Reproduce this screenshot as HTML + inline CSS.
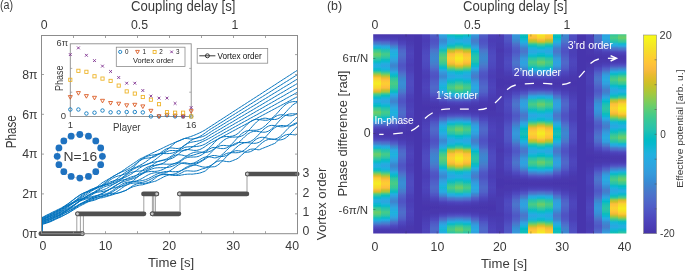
<!DOCTYPE html>
<html><head><meta charset="utf-8"><style>
html,body{margin:0;padding:0;background:#fff;width:685px;height:271px;overflow:hidden}
svg{display:block}
text{font-family:"Liberation Sans",sans-serif}
svg{will-change:transform}
</style></head><body>
<svg width="685" height="271" viewBox="0 0 685 271">
<defs><clipPath id="hmclip"><rect x="373.2" y="34.3" width="253.20" height="199.30"/></clipPath><filter id="hblur" x="-2%" y="-2%" width="104%" height="104%"><feGaussianBlur stdDeviation="0.6 0.3"/></filter><linearGradient id="c0" gradientUnits="userSpaceOnUse" x1="0" y1="34.0" x2="0" y2="134.0" spreadMethod="repeat"><stop offset="0.00" stop-color="#4836ae"/><stop offset="0.02" stop-color="#4939b0"/><stop offset="0.04" stop-color="#4c40b8"/><stop offset="0.06" stop-color="#4e49bf"/><stop offset="0.08" stop-color="#4e6cca"/><stop offset="0.10" stop-color="#4281cd"/><stop offset="0.12" stop-color="#2aa8e1"/><stop offset="0.14" stop-color="#10b7d3"/><stop offset="0.16" stop-color="#34c79b"/><stop offset="0.18" stop-color="#47cb87"/><stop offset="0.20" stop-color="#6ecd67"/><stop offset="0.22" stop-color="#5dcc75"/><stop offset="0.24" stop-color="#3ac993"/><stop offset="0.26" stop-color="#25c2ae"/><stop offset="0.28" stop-color="#01bcc6"/><stop offset="0.30" stop-color="#1eb2dd"/><stop offset="0.32" stop-color="#25ace2"/><stop offset="0.34" stop-color="#16b6d7"/><stop offset="0.36" stop-color="#02baca"/><stop offset="0.38" stop-color="#40ca8d"/><stop offset="0.40" stop-color="#94ca4a"/><stop offset="0.42" stop-color="#debc29"/><stop offset="0.44" stop-color="#fec835"/><stop offset="0.46" stop-color="#f8da2b"/><stop offset="0.48" stop-color="#f5e725"/><stop offset="0.50" stop-color="#f5ec22"/><stop offset="0.52" stop-color="#f6df29"/><stop offset="0.54" stop-color="#f9d72d"/><stop offset="0.56" stop-color="#f4ba3a"/><stop offset="0.58" stop-color="#d1bf27"/><stop offset="0.60" stop-color="#52cc7e"/><stop offset="0.62" stop-color="#25c2ae"/><stop offset="0.64" stop-color="#08b8cf"/><stop offset="0.66" stop-color="#20b1df"/><stop offset="0.68" stop-color="#25ace2"/><stop offset="0.70" stop-color="#0ab8d1"/><stop offset="0.72" stop-color="#04bcc1"/><stop offset="0.74" stop-color="#36c799"/><stop offset="0.76" stop-color="#47cb87"/><stop offset="0.78" stop-color="#6ecd67"/><stop offset="0.80" stop-color="#5dcc75"/><stop offset="0.82" stop-color="#3ac993"/><stop offset="0.84" stop-color="#12beb9"/><stop offset="0.86" stop-color="#1bb4da"/><stop offset="0.88" stop-color="#3595da"/><stop offset="0.90" stop-color="#477bcc"/><stop offset="0.92" stop-color="#5058c6"/><stop offset="0.94" stop-color="#4e46bd"/><stop offset="0.96" stop-color="#493bb2"/><stop offset="0.98" stop-color="#4838af"/><stop offset="1.00" stop-color="#4836ae"/></linearGradient><linearGradient id="c1" gradientUnits="userSpaceOnUse" x1="0" y1="34.0" x2="0" y2="134.0" spreadMethod="repeat"><stop offset="0.00" stop-color="#4836ae"/><stop offset="0.02" stop-color="#4939b0"/><stop offset="0.04" stop-color="#4b3fb7"/><stop offset="0.06" stop-color="#4e48be"/><stop offset="0.08" stop-color="#4f67ca"/><stop offset="0.10" stop-color="#487acc"/><stop offset="0.12" stop-color="#2ea2df"/><stop offset="0.14" stop-color="#1fb2de"/><stop offset="0.16" stop-color="#21c1b0"/><stop offset="0.18" stop-color="#30c5a1"/><stop offset="0.20" stop-color="#45cb89"/><stop offset="0.22" stop-color="#3ac994"/><stop offset="0.24" stop-color="#29c3aa"/><stop offset="0.26" stop-color="#05bdc0"/><stop offset="0.28" stop-color="#11b6d4"/><stop offset="0.30" stop-color="#26abe1"/><stop offset="0.32" stop-color="#2ba5e0"/><stop offset="0.34" stop-color="#21afe0"/><stop offset="0.36" stop-color="#16b5d7"/><stop offset="0.38" stop-color="#2dc4a6"/><stop offset="0.40" stop-color="#63cd70"/><stop offset="0.42" stop-color="#b0c636"/><stop offset="0.44" stop-color="#eaba30"/><stop offset="0.46" stop-color="#febe3c"/><stop offset="0.48" stop-color="#fec934"/><stop offset="0.50" stop-color="#fdce31"/><stop offset="0.52" stop-color="#fec339"/><stop offset="0.54" stop-color="#fcbc3e"/><stop offset="0.56" stop-color="#cbc028"/><stop offset="0.58" stop-color="#a1c840"/><stop offset="0.60" stop-color="#35c79b"/><stop offset="0.62" stop-color="#05bdc0"/><stop offset="0.64" stop-color="#1cb3db"/><stop offset="0.66" stop-color="#28aae1"/><stop offset="0.68" stop-color="#2ba6e0"/><stop offset="0.70" stop-color="#1db2dc"/><stop offset="0.72" stop-color="#09b9d0"/><stop offset="0.74" stop-color="#24c1af"/><stop offset="0.76" stop-color="#30c5a1"/><stop offset="0.78" stop-color="#45cb89"/><stop offset="0.80" stop-color="#3ac994"/><stop offset="0.82" stop-color="#29c3aa"/><stop offset="0.84" stop-color="#02baca"/><stop offset="0.86" stop-color="#24aee2"/><stop offset="0.88" stop-color="#378dd5"/><stop offset="0.90" stop-color="#4b75cb"/><stop offset="0.92" stop-color="#5055c4"/><stop offset="0.94" stop-color="#4d45bc"/><stop offset="0.96" stop-color="#493ab1"/><stop offset="0.98" stop-color="#4838af"/><stop offset="1.00" stop-color="#4836ae"/></linearGradient><linearGradient id="c2" gradientUnits="userSpaceOnUse" x1="0" y1="34.0" x2="0" y2="134.0" spreadMethod="repeat"><stop offset="0.00" stop-color="#4836ad"/><stop offset="0.02" stop-color="#4838af"/><stop offset="0.04" stop-color="#4a3cb4"/><stop offset="0.06" stop-color="#4c41b9"/><stop offset="0.08" stop-color="#5055c4"/><stop offset="0.10" stop-color="#5062c8"/><stop offset="0.12" stop-color="#447fcc"/><stop offset="0.14" stop-color="#3690d7"/><stop offset="0.16" stop-color="#2ba7e1"/><stop offset="0.18" stop-color="#26abe1"/><stop offset="0.20" stop-color="#1eb2dd"/><stop offset="0.22" stop-color="#21afe0"/><stop offset="0.24" stop-color="#2aa8e1"/><stop offset="0.26" stop-color="#2fa1df"/><stop offset="0.28" stop-color="#3598db"/><stop offset="0.30" stop-color="#398ad3"/><stop offset="0.32" stop-color="#4083ce"/><stop offset="0.34" stop-color="#378ed5"/><stop offset="0.36" stop-color="#3596da"/><stop offset="0.38" stop-color="#27aae1"/><stop offset="0.40" stop-color="#13b7d5"/><stop offset="0.42" stop-color="#08bcbe"/><stop offset="0.44" stop-color="#2dc4a5"/><stop offset="0.46" stop-color="#37c897"/><stop offset="0.48" stop-color="#42ca8b"/><stop offset="0.50" stop-color="#48cb86"/><stop offset="0.52" stop-color="#3bc992"/><stop offset="0.54" stop-color="#35c79a"/><stop offset="0.56" stop-color="#1cc0b4"/><stop offset="0.58" stop-color="#03bcc3"/><stop offset="0.60" stop-color="#24aee2"/><stop offset="0.62" stop-color="#2fa1df"/><stop offset="0.64" stop-color="#3693d8"/><stop offset="0.66" stop-color="#3b88d2"/><stop offset="0.68" stop-color="#4083ce"/><stop offset="0.70" stop-color="#3692d8"/><stop offset="0.72" stop-color="#359adc"/><stop offset="0.74" stop-color="#2aa7e1"/><stop offset="0.76" stop-color="#26abe1"/><stop offset="0.78" stop-color="#1eb2dd"/><stop offset="0.80" stop-color="#21afe0"/><stop offset="0.82" stop-color="#2aa8e1"/><stop offset="0.84" stop-color="#349ddd"/><stop offset="0.86" stop-color="#388cd4"/><stop offset="0.88" stop-color="#4e6ecb"/><stop offset="0.90" stop-color="#505ec8"/><stop offset="0.92" stop-color="#4e49bf"/><stop offset="0.94" stop-color="#4c40b8"/><stop offset="0.96" stop-color="#4939b0"/><stop offset="0.98" stop-color="#4837ae"/><stop offset="1.00" stop-color="#4836ad"/></linearGradient><linearGradient id="c3" gradientUnits="userSpaceOnUse" x1="0" y1="34.0" x2="0" y2="134.0" spreadMethod="repeat"><stop offset="0.00" stop-color="#4736ad"/><stop offset="0.02" stop-color="#4837ae"/><stop offset="0.04" stop-color="#4939b0"/><stop offset="0.06" stop-color="#4a3bb2"/><stop offset="0.08" stop-color="#4c42ba"/><stop offset="0.10" stop-color="#4e46bd"/><stop offset="0.12" stop-color="#4f52c4"/><stop offset="0.14" stop-color="#505ac6"/><stop offset="0.16" stop-color="#4f66c9"/><stop offset="0.18" stop-color="#4f69ca"/><stop offset="0.20" stop-color="#4e6ecb"/><stop offset="0.22" stop-color="#4e6cca"/><stop offset="0.24" stop-color="#4f67ca"/><stop offset="0.26" stop-color="#5062c8"/><stop offset="0.28" stop-color="#505dc7"/><stop offset="0.30" stop-color="#5057c5"/><stop offset="0.32" stop-color="#4f54c4"/><stop offset="0.34" stop-color="#5059c6"/><stop offset="0.36" stop-color="#505cc7"/><stop offset="0.38" stop-color="#4f68ca"/><stop offset="0.40" stop-color="#4c72cb"/><stop offset="0.42" stop-color="#477bcc"/><stop offset="0.44" stop-color="#3e85cf"/><stop offset="0.46" stop-color="#3989d2"/><stop offset="0.48" stop-color="#378dd5"/><stop offset="0.50" stop-color="#378ed5"/><stop offset="0.52" stop-color="#388bd4"/><stop offset="0.54" stop-color="#3a89d2"/><stop offset="0.56" stop-color="#437fcc"/><stop offset="0.58" stop-color="#4879cc"/><stop offset="0.60" stop-color="#4e6bca"/><stop offset="0.62" stop-color="#5062c8"/><stop offset="0.64" stop-color="#505bc6"/><stop offset="0.66" stop-color="#5056c5"/><stop offset="0.68" stop-color="#4f54c4"/><stop offset="0.70" stop-color="#505ac6"/><stop offset="0.72" stop-color="#505ec7"/><stop offset="0.74" stop-color="#4f66ca"/><stop offset="0.76" stop-color="#4f69ca"/><stop offset="0.78" stop-color="#4e6ecb"/><stop offset="0.80" stop-color="#4e6cca"/><stop offset="0.82" stop-color="#4f67ca"/><stop offset="0.84" stop-color="#5060c8"/><stop offset="0.86" stop-color="#5058c5"/><stop offset="0.88" stop-color="#4f4bc0"/><stop offset="0.90" stop-color="#4d45bc"/><stop offset="0.92" stop-color="#4b3eb6"/><stop offset="0.94" stop-color="#493ab2"/><stop offset="0.96" stop-color="#4837ae"/><stop offset="0.98" stop-color="#4837ae"/><stop offset="1.00" stop-color="#4736ad"/></linearGradient><linearGradient id="c4" gradientUnits="userSpaceOnUse" x1="0" y1="34.0" x2="0" y2="134.0" spreadMethod="repeat"><stop offset="0.00" stop-color="#4736ad"/><stop offset="0.02" stop-color="#4836ae"/><stop offset="0.04" stop-color="#4837ae"/><stop offset="0.06" stop-color="#4838af"/><stop offset="0.08" stop-color="#493ab1"/><stop offset="0.10" stop-color="#4a3bb2"/><stop offset="0.12" stop-color="#4b3eb5"/><stop offset="0.14" stop-color="#4b3fb7"/><stop offset="0.16" stop-color="#4c42ba"/><stop offset="0.18" stop-color="#4d43ba"/><stop offset="0.20" stop-color="#4d44bb"/><stop offset="0.22" stop-color="#4d43bb"/><stop offset="0.24" stop-color="#4d42ba"/><stop offset="0.26" stop-color="#4c41b9"/><stop offset="0.28" stop-color="#4c40b8"/><stop offset="0.30" stop-color="#4b3eb6"/><stop offset="0.32" stop-color="#4b3eb6"/><stop offset="0.34" stop-color="#4b3fb6"/><stop offset="0.36" stop-color="#4c40b7"/><stop offset="0.38" stop-color="#4d42ba"/><stop offset="0.40" stop-color="#4d45bc"/><stop offset="0.42" stop-color="#4e47be"/><stop offset="0.44" stop-color="#4e49bf"/><stop offset="0.46" stop-color="#4e4bc0"/><stop offset="0.48" stop-color="#4f4bc0"/><stop offset="0.50" stop-color="#4f4cc0"/><stop offset="0.52" stop-color="#4f4bc0"/><stop offset="0.54" stop-color="#4e4ac0"/><stop offset="0.56" stop-color="#4e48be"/><stop offset="0.58" stop-color="#4e46bd"/><stop offset="0.60" stop-color="#4d43ba"/><stop offset="0.62" stop-color="#4c41b9"/><stop offset="0.64" stop-color="#4b3fb7"/><stop offset="0.66" stop-color="#4b3eb6"/><stop offset="0.68" stop-color="#4b3eb6"/><stop offset="0.70" stop-color="#4b3fb7"/><stop offset="0.72" stop-color="#4c40b8"/><stop offset="0.74" stop-color="#4c42ba"/><stop offset="0.76" stop-color="#4d43ba"/><stop offset="0.78" stop-color="#4d44bb"/><stop offset="0.80" stop-color="#4d43bb"/><stop offset="0.82" stop-color="#4d42ba"/><stop offset="0.84" stop-color="#4c40b8"/><stop offset="0.86" stop-color="#4b3fb6"/><stop offset="0.88" stop-color="#4a3cb4"/><stop offset="0.90" stop-color="#493bb2"/><stop offset="0.92" stop-color="#4939b0"/><stop offset="0.94" stop-color="#4837ae"/><stop offset="0.96" stop-color="#4837ae"/><stop offset="0.98" stop-color="#4736ad"/><stop offset="1.00" stop-color="#4736ad"/></linearGradient><linearGradient id="c5" gradientUnits="userSpaceOnUse" x1="0" y1="34.0" x2="0" y2="134.0" spreadMethod="repeat"><stop offset="0.00" stop-color="#4736ad"/><stop offset="0.02" stop-color="#4736ad"/><stop offset="0.04" stop-color="#4736ad"/><stop offset="0.06" stop-color="#4736ad"/><stop offset="0.08" stop-color="#4736ad"/><stop offset="0.10" stop-color="#4736ad"/><stop offset="0.12" stop-color="#4736ad"/><stop offset="0.14" stop-color="#4736ad"/><stop offset="0.16" stop-color="#4736ad"/><stop offset="0.18" stop-color="#4736ad"/><stop offset="0.20" stop-color="#4736ad"/><stop offset="0.22" stop-color="#4736ad"/><stop offset="0.24" stop-color="#4736ad"/><stop offset="0.26" stop-color="#4736ad"/><stop offset="0.28" stop-color="#4736ad"/><stop offset="0.30" stop-color="#4736ad"/><stop offset="0.32" stop-color="#4736ad"/><stop offset="0.34" stop-color="#4736ad"/><stop offset="0.36" stop-color="#4736ad"/><stop offset="0.38" stop-color="#4736ad"/><stop offset="0.40" stop-color="#4736ad"/><stop offset="0.42" stop-color="#4736ad"/><stop offset="0.44" stop-color="#4736ad"/><stop offset="0.46" stop-color="#4736ad"/><stop offset="0.48" stop-color="#4736ad"/><stop offset="0.50" stop-color="#4736ad"/><stop offset="0.52" stop-color="#4736ad"/><stop offset="0.54" stop-color="#4736ad"/><stop offset="0.56" stop-color="#4736ad"/><stop offset="0.58" stop-color="#4736ad"/><stop offset="0.60" stop-color="#4736ad"/><stop offset="0.62" stop-color="#4736ad"/><stop offset="0.64" stop-color="#4736ad"/><stop offset="0.66" stop-color="#4736ad"/><stop offset="0.68" stop-color="#4736ad"/><stop offset="0.70" stop-color="#4736ad"/><stop offset="0.72" stop-color="#4736ad"/><stop offset="0.74" stop-color="#4736ad"/><stop offset="0.76" stop-color="#4736ad"/><stop offset="0.78" stop-color="#4736ad"/><stop offset="0.80" stop-color="#4736ad"/><stop offset="0.82" stop-color="#4736ad"/><stop offset="0.84" stop-color="#4736ad"/><stop offset="0.86" stop-color="#4736ad"/><stop offset="0.88" stop-color="#4736ad"/><stop offset="0.90" stop-color="#4736ad"/><stop offset="0.92" stop-color="#4736ad"/><stop offset="0.94" stop-color="#4736ad"/><stop offset="0.96" stop-color="#4736ad"/><stop offset="0.98" stop-color="#4736ad"/><stop offset="1.00" stop-color="#4736ad"/></linearGradient><linearGradient id="c6" gradientUnits="userSpaceOnUse" x1="0" y1="34.0" x2="0" y2="134.0" spreadMethod="repeat"><stop offset="0.00" stop-color="#4c42ba"/><stop offset="0.02" stop-color="#4c40b8"/><stop offset="0.04" stop-color="#4b3fb7"/><stop offset="0.06" stop-color="#4b3eb6"/><stop offset="0.08" stop-color="#4b3eb6"/><stop offset="0.10" stop-color="#4b3fb7"/><stop offset="0.12" stop-color="#4c41b9"/><stop offset="0.14" stop-color="#4d43ba"/><stop offset="0.16" stop-color="#4e46bd"/><stop offset="0.18" stop-color="#4e48be"/><stop offset="0.20" stop-color="#4e4ac0"/><stop offset="0.22" stop-color="#4f4bc0"/><stop offset="0.24" stop-color="#4f4cc0"/><stop offset="0.26" stop-color="#4f4bc0"/><stop offset="0.28" stop-color="#4e4bc0"/><stop offset="0.30" stop-color="#4e49bf"/><stop offset="0.32" stop-color="#4e47be"/><stop offset="0.34" stop-color="#4d45bc"/><stop offset="0.36" stop-color="#4d42ba"/><stop offset="0.38" stop-color="#4c40b7"/><stop offset="0.40" stop-color="#4b3fb6"/><stop offset="0.42" stop-color="#4b3eb6"/><stop offset="0.44" stop-color="#4b3eb6"/><stop offset="0.46" stop-color="#4c40b8"/><stop offset="0.48" stop-color="#4c41b9"/><stop offset="0.50" stop-color="#4d42ba"/><stop offset="0.52" stop-color="#4d43bb"/><stop offset="0.54" stop-color="#4d44bb"/><stop offset="0.56" stop-color="#4d43ba"/><stop offset="0.58" stop-color="#4c42ba"/><stop offset="0.60" stop-color="#4b3fb7"/><stop offset="0.62" stop-color="#4b3eb5"/><stop offset="0.64" stop-color="#4a3bb2"/><stop offset="0.66" stop-color="#493ab1"/><stop offset="0.68" stop-color="#4838af"/><stop offset="0.70" stop-color="#4837ae"/><stop offset="0.72" stop-color="#4836ae"/><stop offset="0.74" stop-color="#4736ad"/><stop offset="0.76" stop-color="#4736ad"/><stop offset="0.78" stop-color="#4837ae"/><stop offset="0.80" stop-color="#4837ae"/><stop offset="0.82" stop-color="#4939b0"/><stop offset="0.84" stop-color="#493bb2"/><stop offset="0.86" stop-color="#4a3cb4"/><stop offset="0.88" stop-color="#4b3fb6"/><stop offset="0.90" stop-color="#4c40b8"/><stop offset="0.92" stop-color="#4d42ba"/><stop offset="0.94" stop-color="#4d43bb"/><stop offset="0.96" stop-color="#4d44bb"/><stop offset="0.98" stop-color="#4d43ba"/><stop offset="1.00" stop-color="#4c42ba"/></linearGradient><linearGradient id="c7" gradientUnits="userSpaceOnUse" x1="0" y1="34.0" x2="0" y2="134.0" spreadMethod="repeat"><stop offset="0.00" stop-color="#5062c8"/><stop offset="0.02" stop-color="#505bc6"/><stop offset="0.04" stop-color="#5057c5"/><stop offset="0.06" stop-color="#4f51c3"/><stop offset="0.08" stop-color="#4f53c4"/><stop offset="0.10" stop-color="#5058c5"/><stop offset="0.12" stop-color="#505fc8"/><stop offset="0.14" stop-color="#4f66ca"/><stop offset="0.16" stop-color="#4c74cb"/><stop offset="0.18" stop-color="#4979cc"/><stop offset="0.20" stop-color="#4182cd"/><stop offset="0.22" stop-color="#3f84cf"/><stop offset="0.24" stop-color="#3c87d1"/><stop offset="0.26" stop-color="#3d86d0"/><stop offset="0.28" stop-color="#4082cd"/><stop offset="0.30" stop-color="#457ecc"/><stop offset="0.32" stop-color="#4b75cc"/><stop offset="0.34" stop-color="#4e6dcb"/><stop offset="0.36" stop-color="#4f64c9"/><stop offset="0.38" stop-color="#5059c6"/><stop offset="0.40" stop-color="#5056c5"/><stop offset="0.42" stop-color="#4f51c3"/><stop offset="0.44" stop-color="#4f54c4"/><stop offset="0.46" stop-color="#505ac6"/><stop offset="0.48" stop-color="#505fc8"/><stop offset="0.50" stop-color="#4f63c9"/><stop offset="0.52" stop-color="#4f67ca"/><stop offset="0.54" stop-color="#4f69ca"/><stop offset="0.56" stop-color="#4f65c9"/><stop offset="0.58" stop-color="#5062c8"/><stop offset="0.60" stop-color="#5057c5"/><stop offset="0.62" stop-color="#4f50c2"/><stop offset="0.64" stop-color="#4d45bc"/><stop offset="0.66" stop-color="#4c41b9"/><stop offset="0.68" stop-color="#493bb2"/><stop offset="0.70" stop-color="#4939b0"/><stop offset="0.72" stop-color="#4837ae"/><stop offset="0.74" stop-color="#4736ad"/><stop offset="0.76" stop-color="#4837ae"/><stop offset="0.78" stop-color="#4837ae"/><stop offset="0.80" stop-color="#493ab1"/><stop offset="0.82" stop-color="#4b3db5"/><stop offset="0.84" stop-color="#4d44bc"/><stop offset="0.86" stop-color="#4e49bf"/><stop offset="0.88" stop-color="#5055c4"/><stop offset="0.90" stop-color="#505cc7"/><stop offset="0.92" stop-color="#4f63c9"/><stop offset="0.94" stop-color="#4f67ca"/><stop offset="0.96" stop-color="#4f69ca"/><stop offset="0.98" stop-color="#4f65c9"/><stop offset="1.00" stop-color="#5062c8"/></linearGradient><linearGradient id="c8" gradientUnits="userSpaceOnUse" x1="0" y1="34.0" x2="0" y2="134.0" spreadMethod="repeat"><stop offset="0.00" stop-color="#27abe1"/><stop offset="0.02" stop-color="#329ede"/><stop offset="0.04" stop-color="#3596da"/><stop offset="0.06" stop-color="#3b87d1"/><stop offset="0.08" stop-color="#388cd4"/><stop offset="0.10" stop-color="#3597db"/><stop offset="0.12" stop-color="#2ca4e0"/><stop offset="0.14" stop-color="#1fb2de"/><stop offset="0.16" stop-color="#12beb9"/><stop offset="0.18" stop-color="#2ac3a9"/><stop offset="0.20" stop-color="#43cb8a"/><stop offset="0.22" stop-color="#4ecc81"/><stop offset="0.24" stop-color="#5fcd74"/><stop offset="0.26" stop-color="#57cc7a"/><stop offset="0.28" stop-color="#47cb87"/><stop offset="0.30" stop-color="#36c898"/><stop offset="0.32" stop-color="#1cc0b4"/><stop offset="0.34" stop-color="#06b9ce"/><stop offset="0.36" stop-color="#23aee1"/><stop offset="0.38" stop-color="#359adc"/><stop offset="0.40" stop-color="#3692d8"/><stop offset="0.42" stop-color="#3b87d1"/><stop offset="0.44" stop-color="#378ed5"/><stop offset="0.46" stop-color="#349cdd"/><stop offset="0.48" stop-color="#2ca4e0"/><stop offset="0.50" stop-color="#25ade2"/><stop offset="0.52" stop-color="#1db3dc"/><stop offset="0.54" stop-color="#17b5d7"/><stop offset="0.56" stop-color="#21afe0"/><stop offset="0.58" stop-color="#27abe1"/><stop offset="0.60" stop-color="#3595da"/><stop offset="0.62" stop-color="#4083ce"/><stop offset="0.64" stop-color="#4f64c9"/><stop offset="0.66" stop-color="#5057c5"/><stop offset="0.68" stop-color="#4c42ba"/><stop offset="0.70" stop-color="#4a3db4"/><stop offset="0.72" stop-color="#4838af"/><stop offset="0.74" stop-color="#4836ad"/><stop offset="0.76" stop-color="#4837ae"/><stop offset="0.78" stop-color="#4939b0"/><stop offset="0.80" stop-color="#4c40b8"/><stop offset="0.82" stop-color="#4e4ac0"/><stop offset="0.84" stop-color="#5061c8"/><stop offset="0.86" stop-color="#4d71cb"/><stop offset="0.88" stop-color="#3690d7"/><stop offset="0.90" stop-color="#2fa0df"/><stop offset="0.92" stop-color="#25ade2"/><stop offset="0.94" stop-color="#1db3dc"/><stop offset="0.96" stop-color="#17b5d7"/><stop offset="0.98" stop-color="#21afe0"/><stop offset="1.00" stop-color="#27abe1"/></linearGradient><linearGradient id="c9" gradientUnits="userSpaceOnUse" x1="0" y1="34.0" x2="0" y2="134.0" spreadMethod="repeat"><stop offset="0.00" stop-color="#27c2ac"/><stop offset="0.02" stop-color="#07b9ce"/><stop offset="0.04" stop-color="#1cb3db"/><stop offset="0.06" stop-color="#2ba7e1"/><stop offset="0.08" stop-color="#27abe1"/><stop offset="0.10" stop-color="#1bb4da"/><stop offset="0.12" stop-color="#09bdbe"/><stop offset="0.14" stop-color="#37c897"/><stop offset="0.16" stop-color="#a7c73c"/><stop offset="0.18" stop-color="#d1bf27"/><stop offset="0.20" stop-color="#febe3c"/><stop offset="0.22" stop-color="#fec636"/><stop offset="0.24" stop-color="#fbd22f"/><stop offset="0.26" stop-color="#fdcc32"/><stop offset="0.28" stop-color="#fec13a"/><stop offset="0.30" stop-color="#efba35"/><stop offset="0.32" stop-color="#b6c532"/><stop offset="0.34" stop-color="#68cd6b"/><stop offset="0.36" stop-color="#2fc5a3"/><stop offset="0.38" stop-color="#14b6d6"/><stop offset="0.40" stop-color="#20b0df"/><stop offset="0.42" stop-color="#2ba6e0"/><stop offset="0.44" stop-color="#25ace2"/><stop offset="0.46" stop-color="#0db7d2"/><stop offset="0.48" stop-color="#09bdbe"/><stop offset="0.50" stop-color="#2bc3a8"/><stop offset="0.52" stop-color="#3dc990"/><stop offset="0.54" stop-color="#49cb85"/><stop offset="0.56" stop-color="#32c69e"/><stop offset="0.58" stop-color="#25c2ae"/><stop offset="0.60" stop-color="#1eb2dd"/><stop offset="0.62" stop-color="#2ea3df"/><stop offset="0.64" stop-color="#477bcc"/><stop offset="0.66" stop-color="#4f67ca"/><stop offset="0.68" stop-color="#4e48be"/><stop offset="0.70" stop-color="#4b3fb7"/><stop offset="0.72" stop-color="#4939b0"/><stop offset="0.74" stop-color="#4836ae"/><stop offset="0.76" stop-color="#4838af"/><stop offset="0.78" stop-color="#493ab2"/><stop offset="0.80" stop-color="#4d45bc"/><stop offset="0.82" stop-color="#5055c4"/><stop offset="0.84" stop-color="#4b75cc"/><stop offset="0.86" stop-color="#378ed5"/><stop offset="0.88" stop-color="#23afe1"/><stop offset="0.90" stop-color="#01bbc8"/><stop offset="0.92" stop-color="#2bc3a8"/><stop offset="0.94" stop-color="#3dc990"/><stop offset="0.96" stop-color="#49cb85"/><stop offset="0.98" stop-color="#32c69e"/><stop offset="1.00" stop-color="#27c2ac"/></linearGradient><linearGradient id="c10" gradientUnits="userSpaceOnUse" x1="0" y1="34.0" x2="0" y2="134.0" spreadMethod="repeat"><stop offset="0.00" stop-color="#36c799"/><stop offset="0.02" stop-color="#04bcc1"/><stop offset="0.04" stop-color="#0ab8d1"/><stop offset="0.06" stop-color="#25ace2"/><stop offset="0.08" stop-color="#20b1df"/><stop offset="0.10" stop-color="#08b8cf"/><stop offset="0.12" stop-color="#25c2ae"/><stop offset="0.14" stop-color="#52cc7e"/><stop offset="0.16" stop-color="#d1bf27"/><stop offset="0.18" stop-color="#f4ba3a"/><stop offset="0.20" stop-color="#f9d72d"/><stop offset="0.22" stop-color="#f6df29"/><stop offset="0.24" stop-color="#f5ec22"/><stop offset="0.26" stop-color="#f5e725"/><stop offset="0.28" stop-color="#f8da2b"/><stop offset="0.30" stop-color="#fec835"/><stop offset="0.32" stop-color="#debc29"/><stop offset="0.34" stop-color="#94ca4a"/><stop offset="0.36" stop-color="#40ca8d"/><stop offset="0.38" stop-color="#02baca"/><stop offset="0.40" stop-color="#16b6d7"/><stop offset="0.42" stop-color="#25ace2"/><stop offset="0.44" stop-color="#1eb2dd"/><stop offset="0.46" stop-color="#01bcc6"/><stop offset="0.48" stop-color="#25c2ae"/><stop offset="0.50" stop-color="#3ac993"/><stop offset="0.52" stop-color="#5dcc75"/><stop offset="0.54" stop-color="#6ecd67"/><stop offset="0.56" stop-color="#47cb87"/><stop offset="0.58" stop-color="#34c79b"/><stop offset="0.60" stop-color="#10b7d3"/><stop offset="0.62" stop-color="#2aa8e1"/><stop offset="0.64" stop-color="#4281cd"/><stop offset="0.66" stop-color="#4e6cca"/><stop offset="0.68" stop-color="#4e49bf"/><stop offset="0.70" stop-color="#4c40b8"/><stop offset="0.72" stop-color="#4939b0"/><stop offset="0.74" stop-color="#4836ae"/><stop offset="0.76" stop-color="#4838af"/><stop offset="0.78" stop-color="#493bb2"/><stop offset="0.80" stop-color="#4e46bd"/><stop offset="0.82" stop-color="#5058c6"/><stop offset="0.84" stop-color="#477bcc"/><stop offset="0.86" stop-color="#3595da"/><stop offset="0.88" stop-color="#1bb4da"/><stop offset="0.90" stop-color="#12beb9"/><stop offset="0.92" stop-color="#3ac993"/><stop offset="0.94" stop-color="#5dcc75"/><stop offset="0.96" stop-color="#6ecd67"/><stop offset="0.98" stop-color="#47cb87"/><stop offset="1.00" stop-color="#36c799"/></linearGradient><linearGradient id="c11" gradientUnits="userSpaceOnUse" x1="0" y1="34.0" x2="0" y2="134.0" spreadMethod="repeat"><stop offset="0.00" stop-color="#27c2ac"/><stop offset="0.02" stop-color="#07b9ce"/><stop offset="0.04" stop-color="#1cb3db"/><stop offset="0.06" stop-color="#2ba7e1"/><stop offset="0.08" stop-color="#27abe1"/><stop offset="0.10" stop-color="#1bb4da"/><stop offset="0.12" stop-color="#09bdbe"/><stop offset="0.14" stop-color="#37c897"/><stop offset="0.16" stop-color="#a7c73c"/><stop offset="0.18" stop-color="#d1bf27"/><stop offset="0.20" stop-color="#febe3c"/><stop offset="0.22" stop-color="#fec636"/><stop offset="0.24" stop-color="#fbd22f"/><stop offset="0.26" stop-color="#fdcc32"/><stop offset="0.28" stop-color="#fec13a"/><stop offset="0.30" stop-color="#efba35"/><stop offset="0.32" stop-color="#b6c532"/><stop offset="0.34" stop-color="#68cd6b"/><stop offset="0.36" stop-color="#2fc5a3"/><stop offset="0.38" stop-color="#14b6d6"/><stop offset="0.40" stop-color="#20b0df"/><stop offset="0.42" stop-color="#2ba6e0"/><stop offset="0.44" stop-color="#25ace2"/><stop offset="0.46" stop-color="#0db7d2"/><stop offset="0.48" stop-color="#09bdbe"/><stop offset="0.50" stop-color="#2bc3a8"/><stop offset="0.52" stop-color="#3dc990"/><stop offset="0.54" stop-color="#49cb85"/><stop offset="0.56" stop-color="#32c69e"/><stop offset="0.58" stop-color="#25c2ae"/><stop offset="0.60" stop-color="#1eb2dd"/><stop offset="0.62" stop-color="#2ea3df"/><stop offset="0.64" stop-color="#477bcc"/><stop offset="0.66" stop-color="#4f67ca"/><stop offset="0.68" stop-color="#4e48be"/><stop offset="0.70" stop-color="#4b3fb7"/><stop offset="0.72" stop-color="#4939b0"/><stop offset="0.74" stop-color="#4836ae"/><stop offset="0.76" stop-color="#4838af"/><stop offset="0.78" stop-color="#493ab2"/><stop offset="0.80" stop-color="#4d45bc"/><stop offset="0.82" stop-color="#5055c4"/><stop offset="0.84" stop-color="#4b75cc"/><stop offset="0.86" stop-color="#378ed5"/><stop offset="0.88" stop-color="#23afe1"/><stop offset="0.90" stop-color="#01bbc8"/><stop offset="0.92" stop-color="#2bc3a8"/><stop offset="0.94" stop-color="#3dc990"/><stop offset="0.96" stop-color="#49cb85"/><stop offset="0.98" stop-color="#32c69e"/><stop offset="1.00" stop-color="#27c2ac"/></linearGradient><linearGradient id="c12" gradientUnits="userSpaceOnUse" x1="0" y1="34.0" x2="0" y2="134.0" spreadMethod="repeat"><stop offset="0.00" stop-color="#319fde"/><stop offset="0.02" stop-color="#3690d7"/><stop offset="0.04" stop-color="#3a89d2"/><stop offset="0.06" stop-color="#487acc"/><stop offset="0.08" stop-color="#447fcc"/><stop offset="0.10" stop-color="#3989d2"/><stop offset="0.12" stop-color="#3599db"/><stop offset="0.14" stop-color="#2ba5e0"/><stop offset="0.16" stop-color="#12b7d5"/><stop offset="0.18" stop-color="#01bac8"/><stop offset="0.20" stop-color="#1dc0b3"/><stop offset="0.22" stop-color="#25c2ae"/><stop offset="0.24" stop-color="#2dc4a5"/><stop offset="0.26" stop-color="#2ac3a9"/><stop offset="0.28" stop-color="#20c1b1"/><stop offset="0.30" stop-color="#0bbdbd"/><stop offset="0.32" stop-color="#0bb8d1"/><stop offset="0.34" stop-color="#23afe1"/><stop offset="0.36" stop-color="#2ea2df"/><stop offset="0.38" stop-color="#388cd4"/><stop offset="0.40" stop-color="#3e85cf"/><stop offset="0.42" stop-color="#487acc"/><stop offset="0.44" stop-color="#4280cc"/><stop offset="0.46" stop-color="#378ed5"/><stop offset="0.48" stop-color="#3599db"/><stop offset="0.50" stop-color="#2fa0df"/><stop offset="0.52" stop-color="#2ba6e0"/><stop offset="0.54" stop-color="#28aae1"/><stop offset="0.56" stop-color="#2ca3e0"/><stop offset="0.58" stop-color="#319fde"/><stop offset="0.60" stop-color="#3c87d1"/><stop offset="0.62" stop-color="#4a77cc"/><stop offset="0.64" stop-color="#505dc7"/><stop offset="0.66" stop-color="#4f52c3"/><stop offset="0.68" stop-color="#4c40b8"/><stop offset="0.70" stop-color="#4a3cb3"/><stop offset="0.72" stop-color="#4838af"/><stop offset="0.74" stop-color="#4736ad"/><stop offset="0.76" stop-color="#4837ae"/><stop offset="0.78" stop-color="#4939b0"/><stop offset="0.80" stop-color="#4b3fb6"/><stop offset="0.82" stop-color="#4e47be"/><stop offset="0.84" stop-color="#505ac6"/><stop offset="0.86" stop-color="#4f68ca"/><stop offset="0.88" stop-color="#4083ce"/><stop offset="0.90" stop-color="#3694d9"/><stop offset="0.92" stop-color="#2fa0df"/><stop offset="0.94" stop-color="#2ba6e0"/><stop offset="0.96" stop-color="#28aae1"/><stop offset="0.98" stop-color="#2ca3e0"/><stop offset="1.00" stop-color="#319fde"/></linearGradient><linearGradient id="c13" gradientUnits="userSpaceOnUse" x1="0" y1="34.0" x2="0" y2="134.0" spreadMethod="repeat"><stop offset="0.00" stop-color="#5062c8"/><stop offset="0.02" stop-color="#505bc6"/><stop offset="0.04" stop-color="#5057c5"/><stop offset="0.06" stop-color="#4f51c3"/><stop offset="0.08" stop-color="#4f53c4"/><stop offset="0.10" stop-color="#5058c5"/><stop offset="0.12" stop-color="#505fc8"/><stop offset="0.14" stop-color="#4f66ca"/><stop offset="0.16" stop-color="#4c74cb"/><stop offset="0.18" stop-color="#4979cc"/><stop offset="0.20" stop-color="#4182cd"/><stop offset="0.22" stop-color="#3f84cf"/><stop offset="0.24" stop-color="#3c87d1"/><stop offset="0.26" stop-color="#3d86d0"/><stop offset="0.28" stop-color="#4082cd"/><stop offset="0.30" stop-color="#457ecc"/><stop offset="0.32" stop-color="#4b75cc"/><stop offset="0.34" stop-color="#4e6dcb"/><stop offset="0.36" stop-color="#4f64c9"/><stop offset="0.38" stop-color="#5059c6"/><stop offset="0.40" stop-color="#5056c5"/><stop offset="0.42" stop-color="#4f51c3"/><stop offset="0.44" stop-color="#4f54c4"/><stop offset="0.46" stop-color="#505ac6"/><stop offset="0.48" stop-color="#505fc8"/><stop offset="0.50" stop-color="#4f63c9"/><stop offset="0.52" stop-color="#4f67ca"/><stop offset="0.54" stop-color="#4f69ca"/><stop offset="0.56" stop-color="#4f65c9"/><stop offset="0.58" stop-color="#5062c8"/><stop offset="0.60" stop-color="#5057c5"/><stop offset="0.62" stop-color="#4f50c2"/><stop offset="0.64" stop-color="#4d45bc"/><stop offset="0.66" stop-color="#4c41b9"/><stop offset="0.68" stop-color="#493bb2"/><stop offset="0.70" stop-color="#4939b0"/><stop offset="0.72" stop-color="#4837ae"/><stop offset="0.74" stop-color="#4736ad"/><stop offset="0.76" stop-color="#4837ae"/><stop offset="0.78" stop-color="#4837ae"/><stop offset="0.80" stop-color="#493ab1"/><stop offset="0.82" stop-color="#4b3db5"/><stop offset="0.84" stop-color="#4d44bc"/><stop offset="0.86" stop-color="#4e49bf"/><stop offset="0.88" stop-color="#5055c4"/><stop offset="0.90" stop-color="#505cc7"/><stop offset="0.92" stop-color="#4f63c9"/><stop offset="0.94" stop-color="#4f67ca"/><stop offset="0.96" stop-color="#4f69ca"/><stop offset="0.98" stop-color="#4f65c9"/><stop offset="1.00" stop-color="#5062c8"/></linearGradient><linearGradient id="c14" gradientUnits="userSpaceOnUse" x1="0" y1="34.0" x2="0" y2="134.0" spreadMethod="repeat"><stop offset="0.00" stop-color="#4c42ba"/><stop offset="0.02" stop-color="#4c40b8"/><stop offset="0.04" stop-color="#4b3fb7"/><stop offset="0.06" stop-color="#4b3eb6"/><stop offset="0.08" stop-color="#4b3eb6"/><stop offset="0.10" stop-color="#4b3fb7"/><stop offset="0.12" stop-color="#4c41b9"/><stop offset="0.14" stop-color="#4d43ba"/><stop offset="0.16" stop-color="#4e46bd"/><stop offset="0.18" stop-color="#4e48be"/><stop offset="0.20" stop-color="#4e4ac0"/><stop offset="0.22" stop-color="#4f4bc0"/><stop offset="0.24" stop-color="#4f4cc0"/><stop offset="0.26" stop-color="#4f4bc0"/><stop offset="0.28" stop-color="#4e4bc0"/><stop offset="0.30" stop-color="#4e49bf"/><stop offset="0.32" stop-color="#4e47be"/><stop offset="0.34" stop-color="#4d45bc"/><stop offset="0.36" stop-color="#4d42ba"/><stop offset="0.38" stop-color="#4c40b7"/><stop offset="0.40" stop-color="#4b3fb6"/><stop offset="0.42" stop-color="#4b3eb6"/><stop offset="0.44" stop-color="#4b3eb6"/><stop offset="0.46" stop-color="#4c40b8"/><stop offset="0.48" stop-color="#4c41b9"/><stop offset="0.50" stop-color="#4d42ba"/><stop offset="0.52" stop-color="#4d43bb"/><stop offset="0.54" stop-color="#4d44bb"/><stop offset="0.56" stop-color="#4d43ba"/><stop offset="0.58" stop-color="#4c42ba"/><stop offset="0.60" stop-color="#4b3fb7"/><stop offset="0.62" stop-color="#4b3eb5"/><stop offset="0.64" stop-color="#4a3bb2"/><stop offset="0.66" stop-color="#493ab1"/><stop offset="0.68" stop-color="#4838af"/><stop offset="0.70" stop-color="#4837ae"/><stop offset="0.72" stop-color="#4836ae"/><stop offset="0.74" stop-color="#4736ad"/><stop offset="0.76" stop-color="#4736ad"/><stop offset="0.78" stop-color="#4837ae"/><stop offset="0.80" stop-color="#4837ae"/><stop offset="0.82" stop-color="#4939b0"/><stop offset="0.84" stop-color="#493bb2"/><stop offset="0.86" stop-color="#4a3cb4"/><stop offset="0.88" stop-color="#4b3fb6"/><stop offset="0.90" stop-color="#4c40b8"/><stop offset="0.92" stop-color="#4d42ba"/><stop offset="0.94" stop-color="#4d43bb"/><stop offset="0.96" stop-color="#4d44bb"/><stop offset="0.98" stop-color="#4d43ba"/><stop offset="1.00" stop-color="#4c42ba"/></linearGradient><linearGradient id="c15" gradientUnits="userSpaceOnUse" x1="0" y1="34.0" x2="0" y2="134.0" spreadMethod="repeat"><stop offset="0.00" stop-color="#4b3eb5"/><stop offset="0.02" stop-color="#4b3db5"/><stop offset="0.04" stop-color="#4b3db5"/><stop offset="0.06" stop-color="#4a3db4"/><stop offset="0.08" stop-color="#4a3cb4"/><stop offset="0.10" stop-color="#4a3bb2"/><stop offset="0.12" stop-color="#493ab2"/><stop offset="0.14" stop-color="#493ab1"/><stop offset="0.16" stop-color="#4939b0"/><stop offset="0.18" stop-color="#4939b0"/><stop offset="0.20" stop-color="#493ab1"/><stop offset="0.22" stop-color="#493ab1"/><stop offset="0.24" stop-color="#493bb2"/><stop offset="0.26" stop-color="#4a3bb2"/><stop offset="0.28" stop-color="#4a3bb2"/><stop offset="0.30" stop-color="#4a3bb2"/><stop offset="0.32" stop-color="#493bb2"/><stop offset="0.34" stop-color="#493ab1"/><stop offset="0.36" stop-color="#4939b1"/><stop offset="0.38" stop-color="#4838b0"/><stop offset="0.40" stop-color="#4838af"/><stop offset="0.42" stop-color="#4837ae"/><stop offset="0.44" stop-color="#4837ae"/><stop offset="0.46" stop-color="#4736ad"/><stop offset="0.48" stop-color="#4736ad"/><stop offset="0.50" stop-color="#4736ad"/><stop offset="0.52" stop-color="#4736ad"/><stop offset="0.54" stop-color="#4836ae"/><stop offset="0.56" stop-color="#4837ae"/><stop offset="0.58" stop-color="#4837af"/><stop offset="0.60" stop-color="#4838af"/><stop offset="0.62" stop-color="#4939b0"/><stop offset="0.64" stop-color="#493ab1"/><stop offset="0.66" stop-color="#493bb2"/><stop offset="0.68" stop-color="#4a3bb2"/><stop offset="0.70" stop-color="#4a3bb2"/><stop offset="0.72" stop-color="#4a3bb2"/><stop offset="0.74" stop-color="#493bb2"/><stop offset="0.76" stop-color="#493ab2"/><stop offset="0.78" stop-color="#493ab1"/><stop offset="0.80" stop-color="#4939b0"/><stop offset="0.82" stop-color="#4939b0"/><stop offset="0.84" stop-color="#493ab1"/><stop offset="0.86" stop-color="#493ab1"/><stop offset="0.88" stop-color="#4a3bb2"/><stop offset="0.90" stop-color="#4a3cb3"/><stop offset="0.92" stop-color="#4a3cb4"/><stop offset="0.94" stop-color="#4a3db4"/><stop offset="0.96" stop-color="#4b3db5"/><stop offset="0.98" stop-color="#4b3eb5"/><stop offset="1.00" stop-color="#4b3eb5"/></linearGradient><linearGradient id="c16" gradientUnits="userSpaceOnUse" x1="0" y1="34.0" x2="0" y2="134.0" spreadMethod="repeat"><stop offset="0.00" stop-color="#5059c6"/><stop offset="0.02" stop-color="#5058c6"/><stop offset="0.04" stop-color="#5057c5"/><stop offset="0.06" stop-color="#4f53c4"/><stop offset="0.08" stop-color="#4f51c3"/><stop offset="0.10" stop-color="#4e4bc0"/><stop offset="0.12" stop-color="#4e47be"/><stop offset="0.14" stop-color="#4d44bc"/><stop offset="0.16" stop-color="#4d42ba"/><stop offset="0.18" stop-color="#4c42ba"/><stop offset="0.20" stop-color="#4d44bc"/><stop offset="0.22" stop-color="#4d45bc"/><stop offset="0.24" stop-color="#4e49bf"/><stop offset="0.26" stop-color="#4e4ac0"/><stop offset="0.28" stop-color="#4f4cc0"/><stop offset="0.30" stop-color="#4f4bc0"/><stop offset="0.32" stop-color="#4e49bf"/><stop offset="0.34" stop-color="#4e46bd"/><stop offset="0.36" stop-color="#4d43bb"/><stop offset="0.38" stop-color="#4b3fb6"/><stop offset="0.40" stop-color="#4a3db4"/><stop offset="0.42" stop-color="#493ab1"/><stop offset="0.44" stop-color="#4838af"/><stop offset="0.46" stop-color="#4837ae"/><stop offset="0.48" stop-color="#4836ae"/><stop offset="0.50" stop-color="#4736ad"/><stop offset="0.52" stop-color="#4837ae"/><stop offset="0.54" stop-color="#4837ae"/><stop offset="0.56" stop-color="#4838b0"/><stop offset="0.58" stop-color="#4a3bb3"/><stop offset="0.60" stop-color="#4b3db5"/><stop offset="0.62" stop-color="#4c41b9"/><stop offset="0.64" stop-color="#4d44bb"/><stop offset="0.66" stop-color="#4e48bf"/><stop offset="0.68" stop-color="#4e4ac0"/><stop offset="0.70" stop-color="#4f4cc0"/><stop offset="0.72" stop-color="#4f4bc0"/><stop offset="0.74" stop-color="#4e49bf"/><stop offset="0.76" stop-color="#4e47be"/><stop offset="0.78" stop-color="#4d45bc"/><stop offset="0.80" stop-color="#4d43ba"/><stop offset="0.82" stop-color="#4c42ba"/><stop offset="0.84" stop-color="#4d43bb"/><stop offset="0.86" stop-color="#4d45bc"/><stop offset="0.88" stop-color="#4e4abf"/><stop offset="0.90" stop-color="#4f4ec2"/><stop offset="0.92" stop-color="#4f52c3"/><stop offset="0.94" stop-color="#5055c5"/><stop offset="0.96" stop-color="#5057c5"/><stop offset="0.98" stop-color="#5059c6"/><stop offset="1.00" stop-color="#5059c6"/></linearGradient><linearGradient id="c17" gradientUnits="userSpaceOnUse" x1="0" y1="34.0" x2="0" y2="134.0" spreadMethod="repeat"><stop offset="0.00" stop-color="#3598db"/><stop offset="0.02" stop-color="#3594d9"/><stop offset="0.04" stop-color="#3692d8"/><stop offset="0.06" stop-color="#3a89d2"/><stop offset="0.08" stop-color="#4182cd"/><stop offset="0.10" stop-color="#4d71cb"/><stop offset="0.12" stop-color="#4f68ca"/><stop offset="0.14" stop-color="#505fc8"/><stop offset="0.16" stop-color="#505ac6"/><stop offset="0.18" stop-color="#5058c6"/><stop offset="0.20" stop-color="#505fc8"/><stop offset="0.22" stop-color="#4f63c9"/><stop offset="0.24" stop-color="#4e6cca"/><stop offset="0.26" stop-color="#4d6fcb"/><stop offset="0.28" stop-color="#4b75cc"/><stop offset="0.30" stop-color="#4c73cb"/><stop offset="0.32" stop-color="#4e6dcb"/><stop offset="0.34" stop-color="#4f65c9"/><stop offset="0.36" stop-color="#505cc7"/><stop offset="0.38" stop-color="#4f4ec2"/><stop offset="0.40" stop-color="#4e47be"/><stop offset="0.42" stop-color="#4b3fb6"/><stop offset="0.44" stop-color="#4a3bb2"/><stop offset="0.46" stop-color="#4837ae"/><stop offset="0.48" stop-color="#4837ae"/><stop offset="0.50" stop-color="#4736ad"/><stop offset="0.52" stop-color="#4837ae"/><stop offset="0.54" stop-color="#4939b0"/><stop offset="0.56" stop-color="#4a3cb3"/><stop offset="0.58" stop-color="#4d43bb"/><stop offset="0.60" stop-color="#4e49bf"/><stop offset="0.62" stop-color="#5056c5"/><stop offset="0.64" stop-color="#505ec7"/><stop offset="0.66" stop-color="#4e6cca"/><stop offset="0.68" stop-color="#4d6fcb"/><stop offset="0.70" stop-color="#4b75cc"/><stop offset="0.72" stop-color="#4c73cb"/><stop offset="0.74" stop-color="#4e6dcb"/><stop offset="0.76" stop-color="#4f68ca"/><stop offset="0.78" stop-color="#5062c8"/><stop offset="0.80" stop-color="#505bc6"/><stop offset="0.82" stop-color="#5058c6"/><stop offset="0.84" stop-color="#505dc7"/><stop offset="0.86" stop-color="#5061c8"/><stop offset="0.88" stop-color="#4d6ecb"/><stop offset="0.90" stop-color="#4879cc"/><stop offset="0.92" stop-color="#3e84cf"/><stop offset="0.94" stop-color="#378ed5"/><stop offset="0.96" stop-color="#3693d8"/><stop offset="0.98" stop-color="#3596da"/><stop offset="1.00" stop-color="#3598db"/></linearGradient><linearGradient id="c18" gradientUnits="userSpaceOnUse" x1="0" y1="34.0" x2="0" y2="134.0" spreadMethod="repeat"><stop offset="0.00" stop-color="#17bfb7"/><stop offset="0.02" stop-color="#08bcbe"/><stop offset="0.04" stop-color="#03bcc3"/><stop offset="0.06" stop-color="#13b7d5"/><stop offset="0.08" stop-color="#1fb2de"/><stop offset="0.10" stop-color="#30a0de"/><stop offset="0.12" stop-color="#3692d8"/><stop offset="0.14" stop-color="#4082cd"/><stop offset="0.16" stop-color="#4979cc"/><stop offset="0.18" stop-color="#4b75cc"/><stop offset="0.20" stop-color="#4182cd"/><stop offset="0.22" stop-color="#398ad3"/><stop offset="0.24" stop-color="#3599db"/><stop offset="0.26" stop-color="#339ddd"/><stop offset="0.28" stop-color="#2ca3e0"/><stop offset="0.30" stop-color="#2fa1df"/><stop offset="0.32" stop-color="#359bdc"/><stop offset="0.34" stop-color="#378dd5"/><stop offset="0.36" stop-color="#467ccc"/><stop offset="0.38" stop-color="#4f64c9"/><stop offset="0.40" stop-color="#5057c5"/><stop offset="0.42" stop-color="#4e46bd"/><stop offset="0.44" stop-color="#4b3eb6"/><stop offset="0.46" stop-color="#4838b0"/><stop offset="0.48" stop-color="#4837ae"/><stop offset="0.50" stop-color="#4736ad"/><stop offset="0.52" stop-color="#4838af"/><stop offset="0.54" stop-color="#4a3bb3"/><stop offset="0.56" stop-color="#4c40b7"/><stop offset="0.58" stop-color="#4f4fc2"/><stop offset="0.60" stop-color="#505ac6"/><stop offset="0.62" stop-color="#4c72cb"/><stop offset="0.64" stop-color="#4280cc"/><stop offset="0.66" stop-color="#3598db"/><stop offset="0.68" stop-color="#339ddd"/><stop offset="0.70" stop-color="#2ca3e0"/><stop offset="0.72" stop-color="#2fa1df"/><stop offset="0.74" stop-color="#359bdc"/><stop offset="0.76" stop-color="#3692d8"/><stop offset="0.78" stop-color="#3b87d1"/><stop offset="0.80" stop-color="#487acc"/><stop offset="0.82" stop-color="#4b75cc"/><stop offset="0.84" stop-color="#447ecc"/><stop offset="0.86" stop-color="#3d85d0"/><stop offset="0.88" stop-color="#349cdd"/><stop offset="0.90" stop-color="#29a9e1"/><stop offset="0.92" stop-color="#1cb3db"/><stop offset="0.94" stop-color="#03bacb"/><stop offset="0.96" stop-color="#04bcc1"/><stop offset="0.98" stop-color="#10beba"/><stop offset="1.00" stop-color="#17bfb7"/></linearGradient><linearGradient id="c19" gradientUnits="userSpaceOnUse" x1="0" y1="34.0" x2="0" y2="134.0" spreadMethod="repeat"><stop offset="0.00" stop-color="#fbd22f"/><stop offset="0.02" stop-color="#fec636"/><stop offset="0.04" stop-color="#febe3c"/><stop offset="0.06" stop-color="#d1bf27"/><stop offset="0.08" stop-color="#a7c73c"/><stop offset="0.10" stop-color="#37c897"/><stop offset="0.12" stop-color="#09bdbe"/><stop offset="0.14" stop-color="#1bb4da"/><stop offset="0.16" stop-color="#27abe1"/><stop offset="0.18" stop-color="#2ba7e1"/><stop offset="0.20" stop-color="#1cb3db"/><stop offset="0.22" stop-color="#07b9ce"/><stop offset="0.24" stop-color="#27c2ac"/><stop offset="0.26" stop-color="#32c69e"/><stop offset="0.28" stop-color="#49cb85"/><stop offset="0.30" stop-color="#3dc990"/><stop offset="0.32" stop-color="#2bc3a8"/><stop offset="0.34" stop-color="#01bbc8"/><stop offset="0.36" stop-color="#23afe1"/><stop offset="0.38" stop-color="#378ed5"/><stop offset="0.40" stop-color="#4b75cc"/><stop offset="0.42" stop-color="#5055c4"/><stop offset="0.44" stop-color="#4d45bc"/><stop offset="0.46" stop-color="#493ab2"/><stop offset="0.48" stop-color="#4838af"/><stop offset="0.50" stop-color="#4836ae"/><stop offset="0.52" stop-color="#4939b0"/><stop offset="0.54" stop-color="#4b3fb7"/><stop offset="0.56" stop-color="#4e48be"/><stop offset="0.58" stop-color="#4f67ca"/><stop offset="0.60" stop-color="#477bcc"/><stop offset="0.62" stop-color="#2ea3df"/><stop offset="0.64" stop-color="#1eb2dd"/><stop offset="0.66" stop-color="#25c2ae"/><stop offset="0.68" stop-color="#32c69e"/><stop offset="0.70" stop-color="#49cb85"/><stop offset="0.72" stop-color="#3dc990"/><stop offset="0.74" stop-color="#2bc3a8"/><stop offset="0.76" stop-color="#09bdbe"/><stop offset="0.78" stop-color="#0db7d2"/><stop offset="0.80" stop-color="#25ace2"/><stop offset="0.82" stop-color="#2ba6e0"/><stop offset="0.84" stop-color="#20b0df"/><stop offset="0.86" stop-color="#14b6d6"/><stop offset="0.88" stop-color="#2fc5a3"/><stop offset="0.90" stop-color="#68cd6b"/><stop offset="0.92" stop-color="#b6c532"/><stop offset="0.94" stop-color="#efba35"/><stop offset="0.96" stop-color="#fec13a"/><stop offset="0.98" stop-color="#fdcc32"/><stop offset="1.00" stop-color="#fbd22f"/></linearGradient><linearGradient id="c20" gradientUnits="userSpaceOnUse" x1="0" y1="34.0" x2="0" y2="134.0" spreadMethod="repeat"><stop offset="0.00" stop-color="#f5ec22"/><stop offset="0.02" stop-color="#f6df29"/><stop offset="0.04" stop-color="#f9d72d"/><stop offset="0.06" stop-color="#f4ba3a"/><stop offset="0.08" stop-color="#d1bf27"/><stop offset="0.10" stop-color="#52cc7e"/><stop offset="0.12" stop-color="#25c2ae"/><stop offset="0.14" stop-color="#08b8cf"/><stop offset="0.16" stop-color="#20b1df"/><stop offset="0.18" stop-color="#25ace2"/><stop offset="0.20" stop-color="#0ab8d1"/><stop offset="0.22" stop-color="#04bcc1"/><stop offset="0.24" stop-color="#36c799"/><stop offset="0.26" stop-color="#47cb87"/><stop offset="0.28" stop-color="#6ecd67"/><stop offset="0.30" stop-color="#5dcc75"/><stop offset="0.32" stop-color="#3ac993"/><stop offset="0.34" stop-color="#12beb9"/><stop offset="0.36" stop-color="#1bb4da"/><stop offset="0.38" stop-color="#3595da"/><stop offset="0.40" stop-color="#477bcc"/><stop offset="0.42" stop-color="#5058c6"/><stop offset="0.44" stop-color="#4e46bd"/><stop offset="0.46" stop-color="#493bb2"/><stop offset="0.48" stop-color="#4838af"/><stop offset="0.50" stop-color="#4836ae"/><stop offset="0.52" stop-color="#4939b0"/><stop offset="0.54" stop-color="#4c40b8"/><stop offset="0.56" stop-color="#4e49bf"/><stop offset="0.58" stop-color="#4e6cca"/><stop offset="0.60" stop-color="#4281cd"/><stop offset="0.62" stop-color="#2aa8e1"/><stop offset="0.64" stop-color="#10b7d3"/><stop offset="0.66" stop-color="#34c79b"/><stop offset="0.68" stop-color="#47cb87"/><stop offset="0.70" stop-color="#6ecd67"/><stop offset="0.72" stop-color="#5dcc75"/><stop offset="0.74" stop-color="#3ac993"/><stop offset="0.76" stop-color="#25c2ae"/><stop offset="0.78" stop-color="#01bcc6"/><stop offset="0.80" stop-color="#1eb2dd"/><stop offset="0.82" stop-color="#25ace2"/><stop offset="0.84" stop-color="#16b6d7"/><stop offset="0.86" stop-color="#02baca"/><stop offset="0.88" stop-color="#40ca8d"/><stop offset="0.90" stop-color="#94ca4a"/><stop offset="0.92" stop-color="#debc29"/><stop offset="0.94" stop-color="#fec835"/><stop offset="0.96" stop-color="#f8da2b"/><stop offset="0.98" stop-color="#f5e725"/><stop offset="1.00" stop-color="#f5ec22"/></linearGradient><linearGradient id="c21" gradientUnits="userSpaceOnUse" x1="0" y1="34.0" x2="0" y2="134.0" spreadMethod="repeat"><stop offset="0.00" stop-color="#fbd22f"/><stop offset="0.02" stop-color="#fec636"/><stop offset="0.04" stop-color="#febe3c"/><stop offset="0.06" stop-color="#d1bf27"/><stop offset="0.08" stop-color="#a7c73c"/><stop offset="0.10" stop-color="#37c897"/><stop offset="0.12" stop-color="#09bdbe"/><stop offset="0.14" stop-color="#1bb4da"/><stop offset="0.16" stop-color="#27abe1"/><stop offset="0.18" stop-color="#2ba7e1"/><stop offset="0.20" stop-color="#1cb3db"/><stop offset="0.22" stop-color="#07b9ce"/><stop offset="0.24" stop-color="#27c2ac"/><stop offset="0.26" stop-color="#32c69e"/><stop offset="0.28" stop-color="#49cb85"/><stop offset="0.30" stop-color="#3dc990"/><stop offset="0.32" stop-color="#2bc3a8"/><stop offset="0.34" stop-color="#01bbc8"/><stop offset="0.36" stop-color="#23afe1"/><stop offset="0.38" stop-color="#378ed5"/><stop offset="0.40" stop-color="#4b75cc"/><stop offset="0.42" stop-color="#5055c4"/><stop offset="0.44" stop-color="#4d45bc"/><stop offset="0.46" stop-color="#493ab2"/><stop offset="0.48" stop-color="#4838af"/><stop offset="0.50" stop-color="#4836ae"/><stop offset="0.52" stop-color="#4939b0"/><stop offset="0.54" stop-color="#4b3fb7"/><stop offset="0.56" stop-color="#4e48be"/><stop offset="0.58" stop-color="#4f67ca"/><stop offset="0.60" stop-color="#477bcc"/><stop offset="0.62" stop-color="#2ea3df"/><stop offset="0.64" stop-color="#1eb2dd"/><stop offset="0.66" stop-color="#25c2ae"/><stop offset="0.68" stop-color="#32c69e"/><stop offset="0.70" stop-color="#49cb85"/><stop offset="0.72" stop-color="#3dc990"/><stop offset="0.74" stop-color="#2bc3a8"/><stop offset="0.76" stop-color="#09bdbe"/><stop offset="0.78" stop-color="#0db7d2"/><stop offset="0.80" stop-color="#25ace2"/><stop offset="0.82" stop-color="#2ba6e0"/><stop offset="0.84" stop-color="#20b0df"/><stop offset="0.86" stop-color="#14b6d6"/><stop offset="0.88" stop-color="#2fc5a3"/><stop offset="0.90" stop-color="#68cd6b"/><stop offset="0.92" stop-color="#b6c532"/><stop offset="0.94" stop-color="#efba35"/><stop offset="0.96" stop-color="#fec13a"/><stop offset="0.98" stop-color="#fdcc32"/><stop offset="1.00" stop-color="#fbd22f"/></linearGradient><linearGradient id="c22" gradientUnits="userSpaceOnUse" x1="0" y1="34.0" x2="0" y2="134.0" spreadMethod="repeat"><stop offset="0.00" stop-color="#17bfb7"/><stop offset="0.02" stop-color="#08bcbe"/><stop offset="0.04" stop-color="#03bcc3"/><stop offset="0.06" stop-color="#13b7d5"/><stop offset="0.08" stop-color="#1fb2de"/><stop offset="0.10" stop-color="#30a0de"/><stop offset="0.12" stop-color="#3692d8"/><stop offset="0.14" stop-color="#4082cd"/><stop offset="0.16" stop-color="#4979cc"/><stop offset="0.18" stop-color="#4b75cc"/><stop offset="0.20" stop-color="#4182cd"/><stop offset="0.22" stop-color="#398ad3"/><stop offset="0.24" stop-color="#3599db"/><stop offset="0.26" stop-color="#339ddd"/><stop offset="0.28" stop-color="#2ca3e0"/><stop offset="0.30" stop-color="#2fa1df"/><stop offset="0.32" stop-color="#359bdc"/><stop offset="0.34" stop-color="#378dd5"/><stop offset="0.36" stop-color="#467ccc"/><stop offset="0.38" stop-color="#4f64c9"/><stop offset="0.40" stop-color="#5057c5"/><stop offset="0.42" stop-color="#4e46bd"/><stop offset="0.44" stop-color="#4b3eb6"/><stop offset="0.46" stop-color="#4838b0"/><stop offset="0.48" stop-color="#4837ae"/><stop offset="0.50" stop-color="#4736ad"/><stop offset="0.52" stop-color="#4838af"/><stop offset="0.54" stop-color="#4a3bb3"/><stop offset="0.56" stop-color="#4c40b7"/><stop offset="0.58" stop-color="#4f4fc2"/><stop offset="0.60" stop-color="#505ac6"/><stop offset="0.62" stop-color="#4c72cb"/><stop offset="0.64" stop-color="#4280cc"/><stop offset="0.66" stop-color="#3598db"/><stop offset="0.68" stop-color="#339ddd"/><stop offset="0.70" stop-color="#2ca3e0"/><stop offset="0.72" stop-color="#2fa1df"/><stop offset="0.74" stop-color="#359bdc"/><stop offset="0.76" stop-color="#3692d8"/><stop offset="0.78" stop-color="#3b87d1"/><stop offset="0.80" stop-color="#487acc"/><stop offset="0.82" stop-color="#4b75cc"/><stop offset="0.84" stop-color="#447ecc"/><stop offset="0.86" stop-color="#3d85d0"/><stop offset="0.88" stop-color="#349cdd"/><stop offset="0.90" stop-color="#29a9e1"/><stop offset="0.92" stop-color="#1cb3db"/><stop offset="0.94" stop-color="#03bacb"/><stop offset="0.96" stop-color="#04bcc1"/><stop offset="0.98" stop-color="#10beba"/><stop offset="1.00" stop-color="#17bfb7"/></linearGradient><linearGradient id="c23" gradientUnits="userSpaceOnUse" x1="0" y1="34.0" x2="0" y2="134.0" spreadMethod="repeat"><stop offset="0.00" stop-color="#3c87d1"/><stop offset="0.02" stop-color="#3f84cf"/><stop offset="0.04" stop-color="#4182cd"/><stop offset="0.06" stop-color="#4979cc"/><stop offset="0.08" stop-color="#4c74cb"/><stop offset="0.10" stop-color="#4f66ca"/><stop offset="0.12" stop-color="#505fc8"/><stop offset="0.14" stop-color="#5058c5"/><stop offset="0.16" stop-color="#4f53c4"/><stop offset="0.18" stop-color="#4f51c3"/><stop offset="0.20" stop-color="#5057c5"/><stop offset="0.22" stop-color="#505bc6"/><stop offset="0.24" stop-color="#5062c8"/><stop offset="0.26" stop-color="#4f65c9"/><stop offset="0.28" stop-color="#4f69ca"/><stop offset="0.30" stop-color="#4f67ca"/><stop offset="0.32" stop-color="#4f63c9"/><stop offset="0.34" stop-color="#505cc7"/><stop offset="0.36" stop-color="#5055c4"/><stop offset="0.38" stop-color="#4e49bf"/><stop offset="0.40" stop-color="#4d44bc"/><stop offset="0.42" stop-color="#4b3db5"/><stop offset="0.44" stop-color="#493ab1"/><stop offset="0.46" stop-color="#4837ae"/><stop offset="0.48" stop-color="#4837ae"/><stop offset="0.50" stop-color="#4736ad"/><stop offset="0.52" stop-color="#4837ae"/><stop offset="0.54" stop-color="#4939b0"/><stop offset="0.56" stop-color="#493bb2"/><stop offset="0.58" stop-color="#4c41b9"/><stop offset="0.60" stop-color="#4d45bc"/><stop offset="0.62" stop-color="#4f50c2"/><stop offset="0.64" stop-color="#5057c5"/><stop offset="0.66" stop-color="#5062c8"/><stop offset="0.68" stop-color="#4f65c9"/><stop offset="0.70" stop-color="#4f69ca"/><stop offset="0.72" stop-color="#4f67ca"/><stop offset="0.74" stop-color="#4f63c9"/><stop offset="0.76" stop-color="#505fc8"/><stop offset="0.78" stop-color="#505ac6"/><stop offset="0.80" stop-color="#4f54c4"/><stop offset="0.82" stop-color="#4f51c3"/><stop offset="0.84" stop-color="#5056c5"/><stop offset="0.86" stop-color="#5059c6"/><stop offset="0.88" stop-color="#4f64c9"/><stop offset="0.90" stop-color="#4e6dcb"/><stop offset="0.92" stop-color="#4b75cc"/><stop offset="0.94" stop-color="#457ecc"/><stop offset="0.96" stop-color="#4082cd"/><stop offset="0.98" stop-color="#3d86d0"/><stop offset="1.00" stop-color="#3c87d1"/></linearGradient><linearGradient id="c24" gradientUnits="userSpaceOnUse" x1="0" y1="34.0" x2="0" y2="134.0" spreadMethod="repeat"><stop offset="0.00" stop-color="#4f4fc2"/><stop offset="0.02" stop-color="#4f4ec2"/><stop offset="0.04" stop-color="#4f4dc1"/><stop offset="0.06" stop-color="#4e4bc0"/><stop offset="0.08" stop-color="#4e49bf"/><stop offset="0.10" stop-color="#4d45bc"/><stop offset="0.12" stop-color="#4d42ba"/><stop offset="0.14" stop-color="#4c40b8"/><stop offset="0.16" stop-color="#4b3fb7"/><stop offset="0.18" stop-color="#4b3fb6"/><stop offset="0.20" stop-color="#4c40b8"/><stop offset="0.22" stop-color="#4c41b9"/><stop offset="0.24" stop-color="#4d43bb"/><stop offset="0.26" stop-color="#4d44bc"/><stop offset="0.28" stop-color="#4e46bd"/><stop offset="0.30" stop-color="#4d45bc"/><stop offset="0.32" stop-color="#4d44bb"/><stop offset="0.34" stop-color="#4c42ba"/><stop offset="0.36" stop-color="#4c40b8"/><stop offset="0.38" stop-color="#4a3db4"/><stop offset="0.40" stop-color="#4a3bb2"/><stop offset="0.42" stop-color="#4939b0"/><stop offset="0.44" stop-color="#4838af"/><stop offset="0.46" stop-color="#4837ae"/><stop offset="0.48" stop-color="#4836ad"/><stop offset="0.50" stop-color="#4736ad"/><stop offset="0.52" stop-color="#4836ae"/><stop offset="0.54" stop-color="#4837ae"/><stop offset="0.56" stop-color="#4838af"/><stop offset="0.58" stop-color="#493ab1"/><stop offset="0.60" stop-color="#4a3cb3"/><stop offset="0.62" stop-color="#4b3eb6"/><stop offset="0.64" stop-color="#4c40b8"/><stop offset="0.66" stop-color="#4d43bb"/><stop offset="0.68" stop-color="#4d44bc"/><stop offset="0.70" stop-color="#4e46bd"/><stop offset="0.72" stop-color="#4d45bc"/><stop offset="0.74" stop-color="#4d44bb"/><stop offset="0.76" stop-color="#4d42ba"/><stop offset="0.78" stop-color="#4c41b9"/><stop offset="0.80" stop-color="#4c40b7"/><stop offset="0.82" stop-color="#4b3fb6"/><stop offset="0.84" stop-color="#4c40b8"/><stop offset="0.86" stop-color="#4c41b8"/><stop offset="0.88" stop-color="#4d44bc"/><stop offset="0.90" stop-color="#4e47be"/><stop offset="0.92" stop-color="#4e4abf"/><stop offset="0.94" stop-color="#4f4cc1"/><stop offset="0.96" stop-color="#4f4ec2"/><stop offset="0.98" stop-color="#4f4fc2"/><stop offset="1.00" stop-color="#4f4fc2"/></linearGradient><linearGradient id="c25" gradientUnits="userSpaceOnUse" x1="0" y1="34.0" x2="0" y2="134.0" spreadMethod="repeat"><stop offset="0.00" stop-color="#4736ad"/><stop offset="0.02" stop-color="#4736ad"/><stop offset="0.04" stop-color="#4736ad"/><stop offset="0.06" stop-color="#4736ad"/><stop offset="0.08" stop-color="#4736ad"/><stop offset="0.10" stop-color="#4736ad"/><stop offset="0.12" stop-color="#4736ad"/><stop offset="0.14" stop-color="#4736ad"/><stop offset="0.16" stop-color="#4736ad"/><stop offset="0.18" stop-color="#4736ad"/><stop offset="0.20" stop-color="#4736ad"/><stop offset="0.22" stop-color="#4736ad"/><stop offset="0.24" stop-color="#4736ad"/><stop offset="0.26" stop-color="#4736ad"/><stop offset="0.28" stop-color="#4736ad"/><stop offset="0.30" stop-color="#4736ad"/><stop offset="0.32" stop-color="#4736ad"/><stop offset="0.34" stop-color="#4736ad"/><stop offset="0.36" stop-color="#4736ad"/><stop offset="0.38" stop-color="#4736ad"/><stop offset="0.40" stop-color="#4736ad"/><stop offset="0.42" stop-color="#4736ad"/><stop offset="0.44" stop-color="#4736ad"/><stop offset="0.46" stop-color="#4736ad"/><stop offset="0.48" stop-color="#4736ad"/><stop offset="0.50" stop-color="#4736ad"/><stop offset="0.52" stop-color="#4736ad"/><stop offset="0.54" stop-color="#4736ad"/><stop offset="0.56" stop-color="#4736ad"/><stop offset="0.58" stop-color="#4736ad"/><stop offset="0.60" stop-color="#4736ad"/><stop offset="0.62" stop-color="#4736ad"/><stop offset="0.64" stop-color="#4736ad"/><stop offset="0.66" stop-color="#4736ad"/><stop offset="0.68" stop-color="#4736ad"/><stop offset="0.70" stop-color="#4736ad"/><stop offset="0.72" stop-color="#4736ad"/><stop offset="0.74" stop-color="#4736ad"/><stop offset="0.76" stop-color="#4736ad"/><stop offset="0.78" stop-color="#4736ad"/><stop offset="0.80" stop-color="#4736ad"/><stop offset="0.82" stop-color="#4736ad"/><stop offset="0.84" stop-color="#4736ad"/><stop offset="0.86" stop-color="#4736ad"/><stop offset="0.88" stop-color="#4736ad"/><stop offset="0.90" stop-color="#4736ad"/><stop offset="0.92" stop-color="#4736ad"/><stop offset="0.94" stop-color="#4736ad"/><stop offset="0.96" stop-color="#4736ad"/><stop offset="0.98" stop-color="#4736ad"/><stop offset="1.00" stop-color="#4736ad"/></linearGradient><linearGradient id="c26" gradientUnits="userSpaceOnUse" x1="0" y1="34.0" x2="0" y2="134.0" spreadMethod="repeat"><stop offset="0.00" stop-color="#4b3fb7"/><stop offset="0.02" stop-color="#4c40b8"/><stop offset="0.04" stop-color="#4c40b8"/><stop offset="0.06" stop-color="#4c3fb7"/><stop offset="0.08" stop-color="#4b3fb6"/><stop offset="0.10" stop-color="#4a3db4"/><stop offset="0.12" stop-color="#4a3cb3"/><stop offset="0.14" stop-color="#493ab1"/><stop offset="0.16" stop-color="#4939b0"/><stop offset="0.18" stop-color="#4837ae"/><stop offset="0.20" stop-color="#4837ae"/><stop offset="0.22" stop-color="#4836ae"/><stop offset="0.24" stop-color="#4736ad"/><stop offset="0.26" stop-color="#4736ad"/><stop offset="0.28" stop-color="#4836ae"/><stop offset="0.30" stop-color="#4837ae"/><stop offset="0.32" stop-color="#4838af"/><stop offset="0.34" stop-color="#493ab1"/><stop offset="0.36" stop-color="#493bb2"/><stop offset="0.38" stop-color="#4a3db4"/><stop offset="0.40" stop-color="#4b3eb6"/><stop offset="0.42" stop-color="#4b3fb7"/><stop offset="0.44" stop-color="#4c40b8"/><stop offset="0.46" stop-color="#4c40b8"/><stop offset="0.48" stop-color="#4c3fb7"/><stop offset="0.50" stop-color="#4b3fb7"/><stop offset="0.52" stop-color="#4b3eb5"/><stop offset="0.54" stop-color="#4a3db4"/><stop offset="0.56" stop-color="#4a3cb3"/><stop offset="0.58" stop-color="#4a3cb4"/><stop offset="0.60" stop-color="#4b3db4"/><stop offset="0.62" stop-color="#4b3eb6"/><stop offset="0.64" stop-color="#4c40b7"/><stop offset="0.66" stop-color="#4c42ba"/><stop offset="0.68" stop-color="#4d43bb"/><stop offset="0.70" stop-color="#4d45bc"/><stop offset="0.72" stop-color="#4d45bc"/><stop offset="0.74" stop-color="#4d46bd"/><stop offset="0.76" stop-color="#4d45bc"/><stop offset="0.78" stop-color="#4d45bc"/><stop offset="0.80" stop-color="#4d44bc"/><stop offset="0.82" stop-color="#4d42ba"/><stop offset="0.84" stop-color="#4c41b8"/><stop offset="0.86" stop-color="#4b3fb7"/><stop offset="0.88" stop-color="#4b3db5"/><stop offset="0.90" stop-color="#4a3db4"/><stop offset="0.92" stop-color="#4a3cb3"/><stop offset="0.94" stop-color="#4a3cb4"/><stop offset="0.96" stop-color="#4b3db5"/><stop offset="0.98" stop-color="#4b3eb6"/><stop offset="1.00" stop-color="#4b3fb7"/></linearGradient><linearGradient id="c27" gradientUnits="userSpaceOnUse" x1="0" y1="34.0" x2="0" y2="134.0" spreadMethod="repeat"><stop offset="0.00" stop-color="#4e6dcb"/><stop offset="0.02" stop-color="#4c73cb"/><stop offset="0.04" stop-color="#4b75cc"/><stop offset="0.06" stop-color="#4d6fcb"/><stop offset="0.08" stop-color="#4e6cca"/><stop offset="0.10" stop-color="#505ec7"/><stop offset="0.12" stop-color="#5056c5"/><stop offset="0.14" stop-color="#4e49bf"/><stop offset="0.16" stop-color="#4d43bb"/><stop offset="0.18" stop-color="#4a3cb3"/><stop offset="0.20" stop-color="#4939b0"/><stop offset="0.22" stop-color="#4837ae"/><stop offset="0.24" stop-color="#4736ad"/><stop offset="0.26" stop-color="#4837ae"/><stop offset="0.28" stop-color="#4837ae"/><stop offset="0.30" stop-color="#4a3bb2"/><stop offset="0.32" stop-color="#4b3fb6"/><stop offset="0.34" stop-color="#4e47be"/><stop offset="0.36" stop-color="#4f4ec2"/><stop offset="0.38" stop-color="#505cc7"/><stop offset="0.40" stop-color="#4f65c9"/><stop offset="0.42" stop-color="#4e6dcb"/><stop offset="0.44" stop-color="#4c73cb"/><stop offset="0.46" stop-color="#4b75cc"/><stop offset="0.48" stop-color="#4d6fcb"/><stop offset="0.50" stop-color="#4e6cca"/><stop offset="0.52" stop-color="#4f63c9"/><stop offset="0.54" stop-color="#505fc8"/><stop offset="0.56" stop-color="#5058c6"/><stop offset="0.58" stop-color="#505ac6"/><stop offset="0.60" stop-color="#505fc8"/><stop offset="0.62" stop-color="#4f68ca"/><stop offset="0.64" stop-color="#4d71cb"/><stop offset="0.66" stop-color="#4182cd"/><stop offset="0.68" stop-color="#3a89d2"/><stop offset="0.70" stop-color="#3692d8"/><stop offset="0.72" stop-color="#3594d9"/><stop offset="0.74" stop-color="#3598db"/><stop offset="0.76" stop-color="#3596da"/><stop offset="0.78" stop-color="#3693d8"/><stop offset="0.80" stop-color="#378ed5"/><stop offset="0.82" stop-color="#3e84cf"/><stop offset="0.84" stop-color="#4879cc"/><stop offset="0.86" stop-color="#4d6ecb"/><stop offset="0.88" stop-color="#5061c8"/><stop offset="0.90" stop-color="#505dc7"/><stop offset="0.92" stop-color="#5058c6"/><stop offset="0.94" stop-color="#505bc6"/><stop offset="0.96" stop-color="#5062c8"/><stop offset="0.98" stop-color="#4f68ca"/><stop offset="1.00" stop-color="#4e6dcb"/></linearGradient><linearGradient id="c28" gradientUnits="userSpaceOnUse" x1="0" y1="34.0" x2="0" y2="134.0" spreadMethod="repeat"><stop offset="0.00" stop-color="#2fa0df"/><stop offset="0.02" stop-color="#2ba6e0"/><stop offset="0.04" stop-color="#28aae1"/><stop offset="0.06" stop-color="#2ca3e0"/><stop offset="0.08" stop-color="#319fde"/><stop offset="0.10" stop-color="#3c87d1"/><stop offset="0.12" stop-color="#4a77cc"/><stop offset="0.14" stop-color="#505dc7"/><stop offset="0.16" stop-color="#4f52c3"/><stop offset="0.18" stop-color="#4c40b8"/><stop offset="0.20" stop-color="#4a3cb3"/><stop offset="0.22" stop-color="#4838af"/><stop offset="0.24" stop-color="#4736ad"/><stop offset="0.26" stop-color="#4837ae"/><stop offset="0.28" stop-color="#4939b0"/><stop offset="0.30" stop-color="#4b3fb6"/><stop offset="0.32" stop-color="#4e47be"/><stop offset="0.34" stop-color="#505ac6"/><stop offset="0.36" stop-color="#4f68ca"/><stop offset="0.38" stop-color="#4083ce"/><stop offset="0.40" stop-color="#3694d9"/><stop offset="0.42" stop-color="#2fa0df"/><stop offset="0.44" stop-color="#2ba6e0"/><stop offset="0.46" stop-color="#28aae1"/><stop offset="0.48" stop-color="#2ca3e0"/><stop offset="0.50" stop-color="#319fde"/><stop offset="0.52" stop-color="#3690d7"/><stop offset="0.54" stop-color="#3a89d2"/><stop offset="0.56" stop-color="#487acc"/><stop offset="0.58" stop-color="#447fcc"/><stop offset="0.60" stop-color="#3989d2"/><stop offset="0.62" stop-color="#3599db"/><stop offset="0.64" stop-color="#2ba5e0"/><stop offset="0.66" stop-color="#12b7d5"/><stop offset="0.68" stop-color="#01bac8"/><stop offset="0.70" stop-color="#1dc0b3"/><stop offset="0.72" stop-color="#25c2ae"/><stop offset="0.74" stop-color="#2dc4a5"/><stop offset="0.76" stop-color="#2ac3a9"/><stop offset="0.78" stop-color="#20c1b1"/><stop offset="0.80" stop-color="#0bbdbd"/><stop offset="0.82" stop-color="#0bb8d1"/><stop offset="0.84" stop-color="#23afe1"/><stop offset="0.86" stop-color="#2ea2df"/><stop offset="0.88" stop-color="#388cd4"/><stop offset="0.90" stop-color="#3e85cf"/><stop offset="0.92" stop-color="#487acc"/><stop offset="0.94" stop-color="#4280cc"/><stop offset="0.96" stop-color="#378ed5"/><stop offset="0.98" stop-color="#3599db"/><stop offset="1.00" stop-color="#2fa0df"/></linearGradient><linearGradient id="c29" gradientUnits="userSpaceOnUse" x1="0" y1="34.0" x2="0" y2="134.0" spreadMethod="repeat"><stop offset="0.00" stop-color="#2bc3a8"/><stop offset="0.02" stop-color="#3dc990"/><stop offset="0.04" stop-color="#49cb85"/><stop offset="0.06" stop-color="#32c69e"/><stop offset="0.08" stop-color="#25c2ae"/><stop offset="0.10" stop-color="#1eb2dd"/><stop offset="0.12" stop-color="#2ea3df"/><stop offset="0.14" stop-color="#477bcc"/><stop offset="0.16" stop-color="#4f67ca"/><stop offset="0.18" stop-color="#4e48be"/><stop offset="0.20" stop-color="#4b3fb7"/><stop offset="0.22" stop-color="#4939b0"/><stop offset="0.24" stop-color="#4836ae"/><stop offset="0.26" stop-color="#4838af"/><stop offset="0.28" stop-color="#493ab2"/><stop offset="0.30" stop-color="#4d45bc"/><stop offset="0.32" stop-color="#5055c4"/><stop offset="0.34" stop-color="#4b75cc"/><stop offset="0.36" stop-color="#378ed5"/><stop offset="0.38" stop-color="#23afe1"/><stop offset="0.40" stop-color="#01bbc8"/><stop offset="0.42" stop-color="#2bc3a8"/><stop offset="0.44" stop-color="#3dc990"/><stop offset="0.46" stop-color="#49cb85"/><stop offset="0.48" stop-color="#32c69e"/><stop offset="0.50" stop-color="#27c2ac"/><stop offset="0.52" stop-color="#07b9ce"/><stop offset="0.54" stop-color="#1cb3db"/><stop offset="0.56" stop-color="#2ba7e1"/><stop offset="0.58" stop-color="#27abe1"/><stop offset="0.60" stop-color="#1bb4da"/><stop offset="0.62" stop-color="#09bdbe"/><stop offset="0.64" stop-color="#37c897"/><stop offset="0.66" stop-color="#a7c73c"/><stop offset="0.68" stop-color="#d1bf27"/><stop offset="0.70" stop-color="#febe3c"/><stop offset="0.72" stop-color="#fec636"/><stop offset="0.74" stop-color="#fbd22f"/><stop offset="0.76" stop-color="#fdcc32"/><stop offset="0.78" stop-color="#fec13a"/><stop offset="0.80" stop-color="#efba35"/><stop offset="0.82" stop-color="#b6c532"/><stop offset="0.84" stop-color="#68cd6b"/><stop offset="0.86" stop-color="#2fc5a3"/><stop offset="0.88" stop-color="#14b6d6"/><stop offset="0.90" stop-color="#20b0df"/><stop offset="0.92" stop-color="#2ba6e0"/><stop offset="0.94" stop-color="#25ace2"/><stop offset="0.96" stop-color="#0db7d2"/><stop offset="0.98" stop-color="#09bdbe"/><stop offset="1.00" stop-color="#2bc3a8"/></linearGradient><linearGradient id="c30" gradientUnits="userSpaceOnUse" x1="0" y1="34.0" x2="0" y2="134.0" spreadMethod="repeat"><stop offset="0.00" stop-color="#3ac993"/><stop offset="0.02" stop-color="#5dcc75"/><stop offset="0.04" stop-color="#6ecd67"/><stop offset="0.06" stop-color="#47cb87"/><stop offset="0.08" stop-color="#34c79b"/><stop offset="0.10" stop-color="#10b7d3"/><stop offset="0.12" stop-color="#2aa8e1"/><stop offset="0.14" stop-color="#4281cd"/><stop offset="0.16" stop-color="#4e6cca"/><stop offset="0.18" stop-color="#4e49bf"/><stop offset="0.20" stop-color="#4c40b8"/><stop offset="0.22" stop-color="#4939b0"/><stop offset="0.24" stop-color="#4836ae"/><stop offset="0.26" stop-color="#4838af"/><stop offset="0.28" stop-color="#493bb2"/><stop offset="0.30" stop-color="#4e46bd"/><stop offset="0.32" stop-color="#5058c6"/><stop offset="0.34" stop-color="#477bcc"/><stop offset="0.36" stop-color="#3595da"/><stop offset="0.38" stop-color="#1bb4da"/><stop offset="0.40" stop-color="#12beb9"/><stop offset="0.42" stop-color="#3ac993"/><stop offset="0.44" stop-color="#5dcc75"/><stop offset="0.46" stop-color="#6ecd67"/><stop offset="0.48" stop-color="#47cb87"/><stop offset="0.50" stop-color="#36c799"/><stop offset="0.52" stop-color="#04bcc1"/><stop offset="0.54" stop-color="#0ab8d1"/><stop offset="0.56" stop-color="#25ace2"/><stop offset="0.58" stop-color="#20b1df"/><stop offset="0.60" stop-color="#08b8cf"/><stop offset="0.62" stop-color="#25c2ae"/><stop offset="0.64" stop-color="#52cc7e"/><stop offset="0.66" stop-color="#d1bf27"/><stop offset="0.68" stop-color="#f4ba3a"/><stop offset="0.70" stop-color="#f9d72d"/><stop offset="0.72" stop-color="#f6df29"/><stop offset="0.74" stop-color="#f5ec22"/><stop offset="0.76" stop-color="#f5e725"/><stop offset="0.78" stop-color="#f8da2b"/><stop offset="0.80" stop-color="#fec835"/><stop offset="0.82" stop-color="#debc29"/><stop offset="0.84" stop-color="#94ca4a"/><stop offset="0.86" stop-color="#40ca8d"/><stop offset="0.88" stop-color="#02baca"/><stop offset="0.90" stop-color="#16b6d7"/><stop offset="0.92" stop-color="#25ace2"/><stop offset="0.94" stop-color="#1eb2dd"/><stop offset="0.96" stop-color="#01bcc6"/><stop offset="0.98" stop-color="#25c2ae"/><stop offset="1.00" stop-color="#3ac993"/></linearGradient><linearGradient id="cbar" x1="0" y1="0" x2="0" y2="1"><stop offset="0.000" stop-color="#f9fb15"/><stop offset="0.025" stop-color="#f6f21e"/><stop offset="0.050" stop-color="#f5e825"/><stop offset="0.075" stop-color="#f6de29"/><stop offset="0.100" stop-color="#fad42e"/><stop offset="0.125" stop-color="#feca33"/><stop offset="0.150" stop-color="#fec13a"/><stop offset="0.175" stop-color="#f8ba3d"/><stop offset="0.200" stop-color="#eaba30"/><stop offset="0.225" stop-color="#dabd28"/><stop offset="0.250" stop-color="#c8c129"/><stop offset="0.275" stop-color="#b4c533"/><stop offset="0.300" stop-color="#9fc942"/><stop offset="0.325" stop-color="#88cb53"/><stop offset="0.350" stop-color="#71cd64"/><stop offset="0.375" stop-color="#5ccc76"/><stop offset="0.400" stop-color="#48cb86"/><stop offset="0.425" stop-color="#39c895"/><stop offset="0.450" stop-color="#30c5a2"/><stop offset="0.475" stop-color="#25c2ae"/><stop offset="0.500" stop-color="#12beb9"/><stop offset="0.525" stop-color="#02bbc4"/><stop offset="0.550" stop-color="#06b9ce"/><stop offset="0.575" stop-color="#16b5d7"/><stop offset="0.600" stop-color="#20b1df"/><stop offset="0.625" stop-color="#26abe1"/><stop offset="0.650" stop-color="#2ba6e0"/><stop offset="0.675" stop-color="#30a0de"/><stop offset="0.700" stop-color="#3599db"/><stop offset="0.725" stop-color="#3690d7"/><stop offset="0.750" stop-color="#3c87d1"/><stop offset="0.775" stop-color="#457dcc"/><stop offset="0.800" stop-color="#4b74cb"/><stop offset="0.825" stop-color="#4e6bca"/><stop offset="0.850" stop-color="#5062c8"/><stop offset="0.875" stop-color="#5059c6"/><stop offset="0.900" stop-color="#4f50c2"/><stop offset="0.925" stop-color="#4e47be"/><stop offset="0.950" stop-color="#4c40b8"/><stop offset="0.975" stop-color="#493ab1"/><stop offset="1.000" stop-color="#4633a8"/></linearGradient></defs>
<g clip-path="url(#hmclip)"><g filter="url(#hblur)" shape-rendering="crispEdges">
<rect x="370.20" y="32.3" width="12.17" height="203.30" fill="url(#c0)"/>
<rect x="381.37" y="32.3" width="9.17" height="203.30" fill="url(#c1)"/>
<rect x="389.54" y="32.3" width="9.17" height="203.30" fill="url(#c2)"/>
<rect x="397.70" y="32.3" width="9.17" height="203.30" fill="url(#c3)"/>
<rect x="405.87" y="32.3" width="9.17" height="203.30" fill="url(#c4)"/>
<rect x="414.04" y="32.3" width="9.17" height="203.30" fill="url(#c5)"/>
<rect x="422.21" y="32.3" width="9.17" height="203.30" fill="url(#c6)"/>
<rect x="430.37" y="32.3" width="9.17" height="203.30" fill="url(#c7)"/>
<rect x="438.54" y="32.3" width="9.17" height="203.30" fill="url(#c8)"/>
<rect x="446.71" y="32.3" width="9.17" height="203.30" fill="url(#c9)"/>
<rect x="454.88" y="32.3" width="9.17" height="203.30" fill="url(#c10)"/>
<rect x="463.05" y="32.3" width="9.17" height="203.30" fill="url(#c11)"/>
<rect x="471.21" y="32.3" width="9.17" height="203.30" fill="url(#c12)"/>
<rect x="479.38" y="32.3" width="9.17" height="203.30" fill="url(#c13)"/>
<rect x="487.55" y="32.3" width="9.17" height="203.30" fill="url(#c14)"/>
<rect x="495.72" y="32.3" width="9.17" height="203.30" fill="url(#c15)"/>
<rect x="503.88" y="32.3" width="9.17" height="203.30" fill="url(#c16)"/>
<rect x="512.05" y="32.3" width="9.17" height="203.30" fill="url(#c17)"/>
<rect x="520.22" y="32.3" width="9.17" height="203.30" fill="url(#c18)"/>
<rect x="528.39" y="32.3" width="9.17" height="203.30" fill="url(#c19)"/>
<rect x="536.55" y="32.3" width="9.17" height="203.30" fill="url(#c20)"/>
<rect x="544.72" y="32.3" width="9.17" height="203.30" fill="url(#c21)"/>
<rect x="552.89" y="32.3" width="9.17" height="203.30" fill="url(#c22)"/>
<rect x="561.06" y="32.3" width="9.17" height="203.30" fill="url(#c23)"/>
<rect x="569.23" y="32.3" width="9.17" height="203.30" fill="url(#c24)"/>
<rect x="577.39" y="32.3" width="9.17" height="203.30" fill="url(#c25)"/>
<rect x="585.56" y="32.3" width="9.17" height="203.30" fill="url(#c26)"/>
<rect x="593.73" y="32.3" width="9.17" height="203.30" fill="url(#c27)"/>
<rect x="601.90" y="32.3" width="9.17" height="203.30" fill="url(#c28)"/>
<rect x="610.06" y="32.3" width="9.17" height="203.30" fill="url(#c29)"/>
<rect x="618.23" y="32.3" width="11.17" height="203.30" fill="url(#c30)"/>
</g></g>
<line x1="406.0" y1="233.6" x2="406.0" y2="231.4" stroke="#333" stroke-width="0.6" opacity="0.6"/>
<line x1="406.0" y1="34.3" x2="406.0" y2="36.5" stroke="#333" stroke-width="0.6" opacity="0.6"/>
<line x1="437.2" y1="233.6" x2="437.2" y2="231.4" stroke="#333" stroke-width="0.6" opacity="0.6"/>
<line x1="437.2" y1="34.3" x2="437.2" y2="36.5" stroke="#333" stroke-width="0.6" opacity="0.6"/>
<line x1="468.5" y1="233.6" x2="468.5" y2="231.4" stroke="#333" stroke-width="0.6" opacity="0.6"/>
<line x1="468.5" y1="34.3" x2="468.5" y2="36.5" stroke="#333" stroke-width="0.6" opacity="0.6"/>
<line x1="499.7" y1="233.6" x2="499.7" y2="231.4" stroke="#333" stroke-width="0.6" opacity="0.6"/>
<line x1="499.7" y1="34.3" x2="499.7" y2="36.5" stroke="#333" stroke-width="0.6" opacity="0.6"/>
<line x1="530.9" y1="233.6" x2="530.9" y2="231.4" stroke="#333" stroke-width="0.6" opacity="0.6"/>
<line x1="530.9" y1="34.3" x2="530.9" y2="36.5" stroke="#333" stroke-width="0.6" opacity="0.6"/>
<line x1="562.2" y1="233.6" x2="562.2" y2="231.4" stroke="#333" stroke-width="0.6" opacity="0.6"/>
<line x1="562.2" y1="34.3" x2="562.2" y2="36.5" stroke="#333" stroke-width="0.6" opacity="0.6"/>
<line x1="593.4" y1="233.6" x2="593.4" y2="231.4" stroke="#333" stroke-width="0.6" opacity="0.6"/>
<line x1="593.4" y1="34.3" x2="593.4" y2="36.5" stroke="#333" stroke-width="0.6" opacity="0.6"/>
<line x1="373.2" y1="58.5" x2="375.4" y2="58.5" stroke="#333" stroke-width="0.6" opacity="0.6"/>
<line x1="373.2" y1="133.5" x2="375.4" y2="133.5" stroke="#333" stroke-width="0.6" opacity="0.6"/>
<line x1="373.2" y1="209.5" x2="375.4" y2="209.5" stroke="#333" stroke-width="0.6" opacity="0.6"/>
<path d="M379.2,134.4 L383.6,134.4" fill="none" stroke="#fff" stroke-width="1.3"/>
<path d="M393.2,133.8 Q398.0,133.5 402.8,132.8" fill="none" stroke="#fff" stroke-width="1.3"/>
<path d="M411.2,130.8 Q415.5,128.8 419,125.5" fill="none" stroke="#fff" stroke-width="1.3"/>
<path d="M424.9,118.5 Q428.4,115.2 432.7,112.8" fill="none" stroke="#fff" stroke-width="1.3"/>
<path d="M441.2,109.7 Q445.4,109.1 450,108.9" fill="none" stroke="#fff" stroke-width="1.3"/>
<path d="M459.9,109.1 Q464.4,109.1 468.8,109.1" fill="none" stroke="#fff" stroke-width="1.3"/>
<path d="M478.4,109.6 Q483.0,109.8 486.8,108.1" fill="none" stroke="#fff" stroke-width="1.3"/>
<path d="M495,102.9 Q498.5,99.9 501.5,96.4" fill="none" stroke="#fff" stroke-width="1.3"/>
<path d="M507.1,89.8 Q510.6,86.2 515.7,85.0" fill="none" stroke="#fff" stroke-width="1.3"/>
<path d="M524.8,83.9 Q529.4,83.5 534,83.4" fill="none" stroke="#fff" stroke-width="1.3"/>
<path d="M543.1,83.3 Q547.7,83.5 552.3,84.0" fill="none" stroke="#fff" stroke-width="1.3"/>
<path d="M562.2,84.5 Q566.6,84.2 570.5,82.3" fill="none" stroke="#fff" stroke-width="1.3"/>
<path d="M578.9,77.4 Q581.8,74.3 584.7,70.8" fill="none" stroke="#fff" stroke-width="1.3"/>
<path d="M590.5,63.4 Q594.4,60.0 598.8,59.0" fill="none" stroke="#fff" stroke-width="1.3"/>
<path d="M607.9,58.3 L615.6,58.3" stroke="#fff" stroke-width="1.3"/>
<path d="M610.6,55.6 L616.4,58.3 L610.6,61.0" fill="none" stroke="#fff" stroke-width="1.5"/>
<text x="374.4" y="123.9" font-size="10.2" text-anchor="start" fill="#ffffff" textLength="39.3" lengthAdjust="spacingAndGlyphs">In-phase</text>
<text x="436.0" y="99.1" font-size="10.2" text-anchor="start" fill="#ffffff" textLength="41.8" lengthAdjust="spacingAndGlyphs">1’st order</text>
<text x="513.8" y="75.6" font-size="10.2" text-anchor="start" fill="#ffffff" textLength="47.2" lengthAdjust="spacingAndGlyphs">2’nd order</text>
<text x="567.7" y="49.2" font-size="10.2" text-anchor="start" fill="#ffffff" textLength="45" lengthAdjust="spacingAndGlyphs">3’rd order</text>
<rect x="643.5" y="35.0" width="13.100000000000023" height="198.7" fill="url(#cbar)" stroke="#8a8a8a" stroke-width="0.6"/>
<line x1="654.6" y1="208.9" x2="656.6" y2="208.9" stroke="#555" stroke-width="0.6"/>
<line x1="654.6" y1="184.0" x2="656.6" y2="184.0" stroke="#555" stroke-width="0.6"/>
<line x1="654.6" y1="159.2" x2="656.6" y2="159.2" stroke="#555" stroke-width="0.6"/>
<line x1="654.6" y1="134.3" x2="656.6" y2="134.3" stroke="#555" stroke-width="0.6"/>
<line x1="654.6" y1="109.5" x2="656.6" y2="109.5" stroke="#555" stroke-width="0.6"/>
<line x1="654.6" y1="84.7" x2="656.6" y2="84.7" stroke="#555" stroke-width="0.6"/>
<line x1="654.6" y1="59.8" x2="656.6" y2="59.8" stroke="#555" stroke-width="0.6"/>
<text x="659.6" y="38.6" font-size="10" text-anchor="start" fill="#3a3a3a" textLength="12.2" lengthAdjust="spacingAndGlyphs">20</text>
<text x="660.3" y="137.6" font-size="10" text-anchor="start" fill="#3a3a3a">0</text>
<text x="660" y="237.4" font-size="10" text-anchor="start" fill="#3a3a3a" textLength="14.7" lengthAdjust="spacingAndGlyphs">-20</text>
<text transform="translate(682.6,128.6) rotate(-90)" x="0" y="0" font-size="9.6" text-anchor="middle" fill="#3a3a3a" textLength="118.2" lengthAdjust="spacingAndGlyphs">Effective potential [arb. u.]</text>
<text x="326.9" y="10.3" font-size="12.5" text-anchor="start" fill="#3a3a3a" textLength="15.2" lengthAdjust="spacingAndGlyphs">(b)</text>
<text x="463.1" y="11.3" font-size="14" text-anchor="start" fill="#3a3a3a" textLength="104.2" lengthAdjust="spacingAndGlyphs">Coupling delay [s]</text>
<text x="371.6" y="29.2" font-size="12.3" text-anchor="start" fill="#3a3a3a">0</text>
<text x="464.1" y="29.2" font-size="12.3" text-anchor="start" fill="#3a3a3a" textLength="16.7" lengthAdjust="spacingAndGlyphs">0.5</text>
<text x="563.6" y="29.2" font-size="12.3" text-anchor="start" fill="#3a3a3a">1</text>
<text x="342.6" y="62.2" font-size="11.5" text-anchor="start" fill="#3a3a3a" textLength="25.5" lengthAdjust="spacingAndGlyphs">6π/N</text>
<text x="363.7" y="137.2" font-size="12.3" text-anchor="start" fill="#3a3a3a">0</text>
<text x="338.6" y="214.3" font-size="11.5" text-anchor="start" fill="#3a3a3a" textLength="29.5" lengthAdjust="spacingAndGlyphs">-6π/N</text>
<text transform="translate(347.4,133.6) rotate(-90)" x="0" y="0" font-size="13" text-anchor="middle" fill="#3a3a3a" textLength="126" lengthAdjust="spacingAndGlyphs">Phase difference [rad]</text>
<text x="375.0" y="251.0" font-size="12.3" text-anchor="middle" fill="#3a3a3a">0</text>
<text x="437.4" y="251.0" font-size="12.3" text-anchor="middle" fill="#3a3a3a">10</text>
<text x="499.8" y="251.0" font-size="12.3" text-anchor="middle" fill="#3a3a3a">20</text>
<text x="562.2" y="251.0" font-size="12.3" text-anchor="middle" fill="#3a3a3a">30</text>
<text x="624.6" y="251.0" font-size="12.3" text-anchor="middle" fill="#3a3a3a">40</text>
<text x="481.0" y="267.9" font-size="13.4" text-anchor="start" fill="#3a3a3a" textLength="46.2" lengthAdjust="spacingAndGlyphs">Time [s]</text>
<g fill="none" stroke="#0072bd" stroke-width="0.95" stroke-linejoin="round">
<path d="M41.5,233.7 L41.8,226.0 L42.0,217.5 L43.5,216.8 L45.0,216.0 L46.5,215.2 L48.0,214.5 L49.5,213.8 L51.0,213.0 L52.5,212.2 L54.0,211.5 L55.5,210.8 L57.0,210.0 L58.5,209.3 L60.0,208.6 L61.5,207.8 L63.0,206.9 L64.5,206.0 L66.0,205.0 L67.5,204.1 L69.0,203.0 L70.5,201.9 L72.0,200.7 L73.5,199.6 L75.0,198.5 L76.5,197.4 L78.0,196.4 L79.5,195.3 L81.0,194.4 L82.5,193.6 L84.0,192.8 L85.5,192.2 L87.0,191.7 L88.5,191.1 L90.0,190.5 L91.5,189.9 L93.0,189.2 L94.5,188.4 L96.0,187.5 L97.5,186.5 L99.0,185.4 L100.5,184.2 L102.0,182.9 L103.5,182.0 L105.0,181.1 L106.5,180.3 L108.0,179.4 L109.5,178.5 L111.0,177.7 L112.5,176.8 L114.0,175.9 L115.5,175.1 L117.0,174.2 L118.5,173.4 L120.0,172.5 L121.5,171.5 L123.0,170.5 L124.5,169.5 L126.0,168.4 L127.5,167.4 L129.0,166.4 L130.5,165.4 L132.0,164.4 L133.5,163.4 L135.0,162.4 L136.5,161.4 L138.0,160.3 L139.5,159.3 L141.0,158.5 L142.5,157.8 L144.0,157.1 L145.5,156.3 L147.0,155.6 L148.5,154.9 L150.0,154.2 L151.5,153.4 L153.0,152.7 L154.5,152.0 L156.0,151.3 L157.5,150.5 L159.0,149.8 L160.5,149.1 L162.0,148.4 L163.5,147.6 L165.0,146.9 L166.5,146.2 L168.0,145.5 L169.5,144.7 L171.0,144.1 L172.5,143.5 L174.0,142.8 L175.5,142.2 L177.0,141.6 L178.5,141.0 L180.0,140.4 L181.5,139.7 L183.0,139.1 L184.5,138.5 L186.0,138.0 L187.5,137.6 L189.0,137.1 L190.5,136.6 L192.0,136.1 L193.5,135.5 L195.0,134.9 L196.5,134.3 L198.0,133.6 L199.5,132.9 L201.0,132.2 L202.5,131.4 L204.0,130.6 L205.5,129.7 L207.0,128.7 L208.5,127.7 L210.0,126.8 L211.5,125.8 L213.0,124.8 L214.5,123.9 L216.0,122.9 L217.5,121.9 L219.0,120.9 L220.5,120.0 L222.0,119.0 L223.5,118.0 L225.0,117.1 L226.5,116.1 L228.0,115.1 L229.5,114.2 L231.0,113.2 L232.5,112.2 L234.0,111.2 L235.5,110.3 L237.0,109.3 L238.5,108.3 L240.0,107.4 L241.5,106.4 L243.0,105.4 L244.5,104.5 L246.0,103.5 L247.5,102.5 L249.0,101.5 L250.5,100.6 L252.0,99.6 L253.5,98.6 L255.0,97.7 L256.5,96.7 L258.0,95.7 L259.5,94.8 L261.0,93.8 L262.5,92.8 L264.0,91.8 L265.5,90.9 L267.0,89.9 L268.5,88.9 L270.0,88.0 L271.5,87.0 L273.0,86.0 L274.5,85.1 L276.0,84.1 L277.5,83.1 L279.0,82.1 L280.5,81.2 L282.0,80.2 L283.5,79.2 L285.0,78.3 L286.5,77.3 L288.0,76.3 L289.5,75.4 L291.0,74.4 L292.5,73.4 L294.0,72.4 L295.5,71.5 L297.0,70.5"/>
<path d="M41.5,233.7 L41.8,226.0 L42.0,218.0 L43.5,217.2 L45.0,216.5 L46.5,215.7 L48.0,215.0 L49.5,214.2 L51.0,213.5 L52.5,212.8 L54.0,212.1 L55.5,211.4 L57.0,210.7 L58.5,210.0 L60.0,209.3 L61.5,208.4 L63.0,207.4 L64.5,206.4 L66.0,205.4 L67.5,204.3 L69.0,203.2 L70.5,202.1 L72.0,200.9 L73.5,199.7 L75.0,198.5 L76.5,197.4 L78.0,196.4 L79.5,195.3 L81.0,194.4 L82.5,193.6 L84.0,193.0 L85.5,192.4 L87.0,191.9 L88.5,191.4 L90.0,191.0 L91.5,190.5 L93.0,190.0 L94.5,189.4 L96.0,188.8 L97.5,188.0 L99.0,187.2 L100.5,186.2 L102.0,185.1 L103.5,183.9 L105.0,182.7 L106.5,181.5 L108.0,180.2 L109.5,179.0 L111.0,177.8 L112.5,176.8 L114.0,175.9 L115.5,175.1 L117.0,174.2 L118.5,173.4 L120.0,172.8 L121.5,172.1 L123.0,171.4 L124.5,170.8 L126.0,170.1 L127.5,169.4 L129.0,168.6 L130.5,167.7 L132.0,166.7 L133.5,165.6 L135.0,164.4 L136.5,163.2 L138.0,161.9 L139.5,160.7 L141.0,159.6 L142.5,158.7 L144.0,157.8 L145.5,157.1 L147.0,156.4 L148.5,155.9 L150.0,155.5 L151.5,155.2 L153.0,155.0 L154.5,154.8 L156.0,154.5 L157.5,154.3 L159.0,154.0 L160.5,153.5 L162.0,152.9 L163.5,152.2 L165.0,151.3 L166.5,150.2 L168.0,149.0 L169.5,147.7 L171.0,146.4 L172.5,145.1 L174.0,143.8 L175.5,142.5 L177.0,141.6 L178.5,141.0 L180.0,140.4 L181.5,139.7 L183.0,139.1 L184.5,138.5 L186.0,138.4 L187.5,138.6 L189.0,138.8 L190.5,139.0 L192.0,139.0 L193.5,138.8 L195.0,138.5 L196.5,138.1 L198.0,137.4 L199.5,136.6 L201.0,135.8 L202.5,134.8 L204.0,133.8 L205.5,132.7 L207.0,131.6 L208.5,130.5 L210.0,129.5 L211.5,128.5 L213.0,127.6 L214.5,126.7 L216.0,125.8 L217.5,124.8 L219.0,123.9 L220.5,122.9 L222.0,122.0 L223.5,121.1 L225.0,120.1 L226.5,119.2 L228.0,118.2 L229.5,117.3 L231.0,116.3 L232.5,115.4 L234.0,114.5 L235.5,113.5 L237.0,112.6 L238.5,111.6 L240.0,110.7 L241.5,109.8 L243.0,108.8 L244.5,107.9 L246.0,106.9 L247.5,106.0 L249.0,105.0 L250.5,104.1 L252.0,103.2 L253.5,102.2 L255.0,101.3 L256.5,100.3 L258.0,99.4 L259.5,98.4 L261.0,97.5 L262.5,96.6 L264.0,95.6 L265.5,94.7 L267.0,93.7 L268.5,92.8 L270.0,91.9 L271.5,90.9 L273.0,90.0 L274.5,89.0 L276.0,88.1 L277.5,87.1 L279.0,86.2 L280.5,85.3 L282.0,84.3 L283.5,83.4 L285.0,82.4 L286.5,81.5 L288.0,80.6 L289.5,79.6 L291.0,78.7 L292.5,77.7 L294.0,76.8 L295.5,75.8 L297.0,74.9"/>
<path d="M41.5,233.7 L41.8,226.0 L42.0,218.4 L43.5,217.7 L45.0,217.0 L46.5,216.4 L48.0,215.7 L49.5,215.0 L51.0,214.3 L52.5,213.5 L54.0,212.8 L55.5,211.9 L57.0,211.1 L58.5,210.3 L60.0,209.5 L61.5,208.6 L63.0,207.6 L64.5,206.8 L66.0,205.9 L67.5,205.2 L69.0,204.4 L70.5,203.6 L72.0,202.7 L73.5,201.8 L75.0,200.8 L76.5,199.6 L78.0,198.4 L79.5,197.1 L81.0,195.9 L82.5,194.8 L84.0,193.7 L85.5,192.6 L87.0,191.6 L88.5,190.6 L90.0,189.9 L91.5,189.2 L93.0,188.7 L94.5,188.2 L96.0,187.8 L97.5,187.3 L99.0,186.8 L100.5,186.3 L102.0,185.5 L103.5,184.7 L105.0,183.7 L106.5,182.7 L108.0,181.6 L109.5,180.4 L111.0,179.4 L112.5,178.4 L114.0,177.6 L115.5,176.9 L117.0,176.3 L118.5,175.9 L120.0,175.6 L121.5,175.2 L123.0,174.7 L124.5,174.2 L126.0,173.5 L127.5,172.7 L129.0,171.6 L130.5,170.3 L132.0,168.9 L133.5,167.3 L135.0,165.6 L136.5,164.0 L138.0,162.4 L139.5,161.0 L141.0,160.0 L142.5,159.2 L144.0,158.7 L145.5,158.4 L147.0,158.1 L148.5,158.0 L150.0,157.8 L151.5,157.6 L153.0,157.2 L154.5,156.7 L156.0,156.0 L157.5,155.0 L159.0,154.0 L160.5,152.8 L162.0,151.7 L163.5,150.6 L165.0,149.6 L166.5,148.8 L168.0,148.3 L169.5,147.9 L171.0,147.9 L172.5,148.0 L174.0,148.2 L175.5,148.4 L177.0,148.5 L178.5,148.4 L180.0,148.1 L181.5,147.5 L183.0,146.7 L184.5,145.6 L186.0,144.4 L187.5,143.1 L189.0,141.9 L190.5,140.8 L192.0,139.9 L193.5,139.1 L195.0,138.5 L196.5,138.1 L198.0,137.7 L199.5,137.4 L201.0,137.0 L202.5,136.6 L204.0,136.0 L205.5,135.3 L207.0,134.4 L208.5,133.4 L210.0,132.4 L211.5,131.4 L213.0,130.4 L214.5,129.5 L216.0,128.6 L217.5,127.7 L219.0,126.8 L220.5,125.9 L222.0,125.0 L223.5,124.1 L225.0,123.2 L226.5,122.2 L228.0,121.3 L229.5,120.4 L231.0,119.5 L232.5,118.6 L234.0,117.7 L235.5,116.8 L237.0,115.8 L238.5,114.9 L240.0,114.0 L241.5,113.1 L243.0,112.2 L244.5,111.3 L246.0,110.4 L247.5,109.5 L249.0,108.5 L250.5,107.6 L252.0,106.7 L253.5,105.8 L255.0,104.9 L256.5,104.0 L258.0,103.1 L259.5,102.1 L261.0,101.2 L262.5,100.3 L264.0,99.4 L265.5,98.5 L267.0,97.6 L268.5,96.7 L270.0,95.7 L271.5,94.8 L273.0,93.9 L274.5,93.0 L276.0,92.1 L277.5,91.2 L279.0,90.3 L280.5,89.4 L282.0,88.4 L283.5,87.5 L285.0,86.6 L286.5,85.7 L288.0,84.8 L289.5,83.9 L291.0,83.0 L292.5,82.0 L294.0,81.1 L295.5,80.2 L297.0,79.3"/>
<path d="M41.5,233.7 L41.8,226.0 L42.0,218.9 L43.5,218.3 L45.0,217.6 L46.5,217.0 L48.0,216.3 L49.5,215.6 L51.0,214.9 L52.5,214.1 L54.0,213.3 L55.5,212.5 L57.0,211.7 L58.5,210.9 L60.0,210.2 L61.5,209.2 L63.0,208.2 L64.5,207.3 L66.0,206.4 L67.5,205.6 L69.0,204.8 L70.5,203.9 L72.0,203.0 L73.5,202.1 L75.0,201.1 L76.5,200.2 L78.0,199.1 L79.5,198.0 L81.0,197.0 L82.5,196.0 L84.0,194.9 L85.5,193.9 L87.0,192.8 L88.5,191.8 L90.0,190.8 L91.5,189.8 L93.0,189.0 L94.5,188.2 L96.0,187.6 L97.5,187.1 L99.0,186.6 L100.5,186.3 L102.0,185.9 L103.5,185.6 L105.0,185.2 L106.5,184.8 L108.0,184.3 L109.5,183.7 L111.0,183.0 L112.5,182.1 L114.0,181.1 L115.5,180.1 L117.0,179.0 L118.5,177.8 L120.0,176.6 L121.5,175.3 L123.0,174.1 L124.5,173.0 L126.0,171.9 L127.5,171.0 L129.0,170.2 L130.5,169.5 L132.0,168.8 L133.5,168.2 L135.0,167.6 L136.5,167.0 L138.0,166.2 L139.5,165.5 L141.0,164.7 L142.5,163.9 L144.0,163.0 L145.5,162.0 L147.0,160.9 L148.5,159.8 L150.0,158.6 L151.5,157.6 L153.0,156.5 L154.5,155.7 L156.0,154.9 L157.5,154.3 L159.0,153.9 L160.5,153.7 L162.0,153.5 L163.5,153.5 L165.0,153.6 L166.5,153.6 L168.0,153.6 L169.5,153.5 L171.0,153.3 L172.5,153.0 L174.0,152.5 L175.5,151.9 L177.0,151.0 L178.5,150.0 L180.0,148.9 L181.5,147.6 L183.0,146.4 L184.5,145.2 L186.0,144.3 L187.5,143.5 L189.0,142.9 L190.5,142.4 L192.0,142.1 L193.5,141.8 L195.0,141.6 L196.5,141.3 L198.0,141.0 L199.5,140.6 L201.0,140.2 L202.5,139.6 L204.0,138.9 L205.5,138.0 L207.0,137.1 L208.5,136.1 L210.0,135.1 L211.5,134.1 L213.0,133.2 L214.5,132.4 L216.0,131.5 L217.5,130.6 L219.0,129.7 L220.5,128.9 L222.0,128.0 L223.5,127.1 L225.0,126.2 L226.5,125.3 L228.0,124.4 L229.5,123.5 L231.0,122.7 L232.5,121.8 L234.0,120.9 L235.5,120.0 L237.0,119.1 L238.5,118.2 L240.0,117.3 L241.5,116.5 L243.0,115.6 L244.5,114.7 L246.0,113.8 L247.5,112.9 L249.0,112.0 L250.5,111.2 L252.0,110.3 L253.5,109.4 L255.0,108.5 L256.5,107.6 L258.0,106.7 L259.5,105.8 L261.0,105.0 L262.5,104.1 L264.0,103.2 L265.5,102.3 L267.0,101.4 L268.5,100.5 L270.0,99.6 L271.5,98.8 L273.0,97.9 L274.5,97.0 L276.0,96.1 L277.5,95.2 L279.0,94.3 L280.5,93.4 L282.0,92.6 L283.5,91.7 L285.0,90.8 L286.5,89.9 L288.0,89.0 L289.5,88.1 L291.0,87.2 L292.5,86.4 L294.0,85.5 L295.5,84.6 L297.0,83.7"/>
<path d="M41.5,233.7 L41.8,226.0 L42.0,219.4 L43.5,218.8 L45.0,218.2 L46.5,217.5 L48.0,216.9 L49.5,216.2 L51.0,215.5 L52.5,214.7 L54.0,214.0 L55.5,213.2 L57.0,212.4 L58.5,211.6 L60.0,210.8 L61.5,209.8 L63.0,208.8 L64.5,207.9 L66.0,207.0 L67.5,206.1 L69.0,205.3 L70.5,204.4 L72.0,203.5 L73.5,202.6 L75.0,201.8 L76.5,200.8 L78.0,199.9 L79.5,198.9 L81.0,198.0 L82.5,197.2 L84.0,196.2 L85.5,195.3 L87.0,194.3 L88.5,193.2 L90.0,192.2 L91.5,191.1 L93.0,190.1 L94.5,189.1 L96.0,188.2 L97.5,187.4 L99.0,186.7 L100.5,186.1 L102.0,185.6 L103.5,185.1 L105.0,184.7 L106.5,184.4 L108.0,184.0 L109.5,183.7 L111.0,183.3 L112.5,182.9 L114.0,182.3 L115.5,181.7 L117.0,181.0 L118.5,180.2 L120.0,179.3 L121.5,178.1 L123.0,177.0 L124.5,175.7 L126.0,174.5 L127.5,173.3 L129.0,172.2 L130.5,171.1 L132.0,170.1 L133.5,169.2 L135.0,168.4 L136.5,167.7 L138.0,167.1 L139.5,166.5 L141.0,166.1 L142.5,165.8 L144.0,165.4 L145.5,165.0 L147.0,164.5 L148.5,163.9 L150.0,163.1 L151.5,162.3 L153.0,161.3 L154.5,160.2 L156.0,159.1 L157.5,157.9 L159.0,156.7 L160.5,155.5 L162.0,154.4 L163.5,153.4 L165.0,152.5 L166.5,151.8 L168.0,151.2 L169.5,150.7 L171.0,150.5 L172.5,150.5 L174.0,150.5 L175.5,150.6 L177.0,150.8 L178.5,150.9 L180.0,150.9 L181.5,150.9 L183.0,150.8 L184.5,150.5 L186.0,150.1 L187.5,149.6 L189.0,148.9 L190.5,148.1 L192.0,147.2 L193.5,146.3 L195.0,145.4 L196.5,144.6 L198.0,143.7 L199.5,143.0 L201.0,142.3 L202.5,141.6 L204.0,140.9 L205.5,140.3 L207.0,139.5 L208.5,138.7 L210.0,137.9 L211.5,137.1 L213.0,136.2 L214.5,135.3 L216.0,134.4 L217.5,133.5 L219.0,132.7 L220.5,131.8 L222.0,131.0 L223.5,130.1 L225.0,129.2 L226.5,128.4 L228.0,127.5 L229.5,126.7 L231.0,125.8 L232.5,125.0 L234.0,124.1 L235.5,123.2 L237.0,122.4 L238.5,121.5 L240.0,120.7 L241.5,119.8 L243.0,119.0 L244.5,118.1 L246.0,117.2 L247.5,116.4 L249.0,115.5 L250.5,114.7 L252.0,113.8 L253.5,113.0 L255.0,112.1 L256.5,111.2 L258.0,110.4 L259.5,109.5 L261.0,108.7 L262.5,107.8 L264.0,107.0 L265.5,106.1 L267.0,105.2 L268.5,104.4 L270.0,103.5 L271.5,102.7 L273.0,101.8 L274.5,101.0 L276.0,100.1 L277.5,99.2 L279.0,98.4 L280.5,97.5 L282.0,96.7 L283.5,95.8 L285.0,95.0 L286.5,94.1 L288.0,93.2 L289.5,92.4 L291.0,91.5 L292.5,90.7 L294.0,89.8 L295.5,89.0 L297.0,88.1"/>
<path d="M41.5,233.7 L41.8,226.0 L42.0,219.8 L43.5,219.2 L45.0,218.6 L46.5,218.0 L48.0,217.3 L49.5,216.7 L51.0,216.0 L52.5,215.3 L54.0,214.5 L55.5,213.8 L57.0,213.0 L58.5,212.2 L60.0,211.5 L61.5,210.5 L63.0,209.5 L64.5,208.5 L66.0,207.6 L67.5,206.6 L69.0,205.7 L70.5,204.8 L72.0,203.9 L73.5,203.0 L75.0,202.1 L76.5,201.3 L78.0,200.5 L79.5,199.6 L81.0,199.0 L82.5,198.4 L84.0,197.7 L85.5,197.1 L87.0,196.3 L88.5,195.6 L90.0,194.7 L91.5,193.8 L93.0,192.9 L94.5,191.9 L96.0,190.8 L97.5,189.8 L99.0,188.7 L100.5,187.6 L102.0,186.6 L103.5,185.6 L105.0,184.7 L106.5,183.8 L108.0,183.0 L109.5,182.3 L111.0,181.7 L112.5,181.2 L114.0,180.7 L115.5,180.2 L117.0,179.9 L118.5,179.5 L120.0,179.1 L121.5,178.6 L123.0,178.1 L124.5,177.5 L126.0,176.9 L127.5,176.2 L129.0,175.4 L130.5,174.5 L132.0,173.6 L133.5,172.5 L135.0,171.5 L136.5,170.4 L138.0,169.3 L139.5,168.1 L141.0,167.2 L142.5,166.3 L144.0,165.6 L145.5,164.8 L147.0,164.2 L148.5,163.7 L150.0,163.2 L151.5,162.8 L153.0,162.4 L154.5,162.1 L156.0,161.9 L157.5,161.6 L159.0,161.3 L160.5,161.0 L162.0,160.6 L163.5,160.1 L165.0,159.5 L166.5,158.9 L168.0,158.1 L169.5,157.2 L171.0,156.3 L172.5,155.3 L174.0,154.3 L175.5,153.3 L177.0,152.2 L178.5,151.1 L180.0,150.1 L181.5,149.1 L183.0,148.3 L184.5,147.5 L186.0,147.1 L187.5,146.9 L189.0,146.8 L190.5,146.7 L192.0,146.7 L193.5,146.7 L195.0,146.6 L196.5,146.5 L198.0,146.3 L199.5,146.0 L201.0,145.7 L202.5,145.2 L204.0,144.5 L205.5,143.8 L207.0,142.9 L208.5,141.9 L210.0,140.9 L211.5,140.0 L213.0,139.0 L214.5,138.1 L216.0,137.3 L217.5,136.4 L219.0,135.6 L220.5,134.8 L222.0,134.0 L223.5,133.1 L225.0,132.3 L226.5,131.5 L228.0,130.6 L229.5,129.8 L231.0,129.0 L232.5,128.2 L234.0,127.3 L235.5,126.5 L237.0,125.7 L238.5,124.8 L240.0,124.0 L241.5,123.2 L243.0,122.3 L244.5,121.5 L246.0,120.7 L247.5,119.9 L249.0,119.0 L250.5,118.2 L252.0,117.4 L253.5,116.5 L255.0,115.7 L256.5,114.9 L258.0,114.1 L259.5,113.2 L261.0,112.4 L262.5,111.6 L264.0,110.7 L265.5,109.9 L267.0,109.1 L268.5,108.3 L270.0,107.4 L271.5,106.6 L273.0,105.8 L274.5,104.9 L276.0,104.1 L277.5,103.3 L279.0,102.4 L280.5,101.6 L282.0,100.8 L283.5,100.0 L285.0,99.1 L286.5,98.3 L288.0,97.5 L289.5,96.6 L291.0,95.8 L292.5,95.0 L294.0,94.2 L295.5,93.3 L297.0,92.5"/>
<path d="M41.5,233.7 L41.8,226.0 L42.0,220.3 L43.5,219.6 L45.0,218.9 L46.5,218.2 L48.0,217.5 L49.5,216.9 L51.0,216.2 L52.5,215.6 L54.0,214.9 L55.5,214.3 L57.0,213.6 L58.5,212.9 L60.0,212.3 L61.5,211.3 L63.0,210.4 L64.5,209.3 L66.0,208.3 L67.5,207.2 L69.0,206.2 L70.5,205.1 L72.0,204.0 L73.5,203.0 L75.0,202.1 L76.5,201.2 L78.0,200.5 L79.5,199.7 L81.0,199.3 L82.5,198.9 L84.0,198.4 L85.5,198.0 L87.0,197.4 L88.5,196.8 L90.0,196.0 L91.5,195.1 L93.0,194.1 L94.5,193.1 L96.0,192.0 L97.5,190.8 L99.0,189.8 L100.5,188.8 L102.0,188.0 L103.5,187.2 L105.0,186.6 L106.5,186.1 L108.0,185.7 L109.5,185.3 L111.0,184.9 L112.5,184.4 L114.0,183.9 L115.5,183.3 L117.0,182.5 L118.5,181.5 L120.0,180.5 L121.5,179.2 L123.0,178.0 L124.5,176.7 L126.0,175.5 L127.5,174.4 L129.0,173.5 L130.5,172.7 L132.0,172.2 L133.5,171.8 L135.0,171.5 L136.5,171.4 L138.0,171.2 L139.5,171.1 L141.0,170.9 L142.5,170.7 L144.0,170.3 L145.5,169.7 L147.0,168.9 L148.5,168.0 L150.0,166.9 L151.5,165.7 L153.0,164.6 L154.5,163.5 L156.0,162.5 L157.5,161.7 L159.0,161.1 L160.5,160.6 L162.0,160.3 L163.5,160.1 L165.0,160.0 L166.5,159.8 L168.0,159.6 L169.5,159.2 L171.0,158.7 L172.5,158.1 L174.0,157.3 L175.5,156.3 L177.0,155.2 L178.5,154.0 L180.0,152.7 L181.5,151.6 L183.0,150.6 L184.5,149.8 L186.0,149.5 L187.5,149.5 L189.0,149.6 L190.5,149.9 L192.0,150.1 L193.5,150.4 L195.0,150.4 L196.5,150.4 L198.0,150.1 L199.5,149.6 L201.0,149.0 L202.5,148.2 L204.0,147.3 L205.5,146.3 L207.0,145.2 L208.5,144.2 L210.0,143.3 L211.5,142.5 L213.0,141.7 L214.5,140.9 L216.0,140.1 L217.5,139.3 L219.0,138.5 L220.5,137.7 L222.0,136.9 L223.5,136.1 L225.0,135.3 L226.5,134.5 L228.0,133.7 L229.5,132.9 L231.0,132.1 L232.5,131.3 L234.0,130.5 L235.5,129.7 L237.0,128.9 L238.5,128.1 L240.0,127.3 L241.5,126.5 L243.0,125.7 L244.5,124.9 L246.0,124.1 L247.5,123.3 L249.0,122.5 L250.5,121.7 L252.0,120.9 L253.5,120.1 L255.0,119.3 L256.5,118.5 L258.0,117.7 L259.5,116.9 L261.0,116.1 L262.5,115.3 L264.0,114.5 L265.5,113.7 L267.0,112.9 L268.5,112.1 L270.0,111.3 L271.5,110.5 L273.0,109.7 L274.5,108.9 L276.0,108.1 L277.5,107.3 L279.0,106.5 L280.5,105.7 L282.0,104.9 L283.5,104.1 L285.0,103.3 L286.5,102.5 L288.0,101.7 L289.5,100.9 L291.0,100.1 L292.5,99.3 L294.0,98.5 L295.5,97.7 L297.0,96.9"/>
<path d="M41.5,233.7 L41.8,226.0 L42.0,220.8 L43.5,220.2 L45.0,219.6 L46.5,219.1 L48.0,218.5 L49.5,217.9 L51.0,217.2 L52.5,216.5 L54.0,215.7 L55.5,214.9 L57.0,214.1 L58.5,213.4 L60.0,212.6 L61.5,211.6 L63.0,210.7 L64.5,209.9 L66.0,209.1 L67.5,208.3 L69.0,207.5 L70.5,206.8 L72.0,206.0 L73.5,205.1 L75.0,204.2 L76.5,203.2 L78.0,202.2 L79.5,201.0 L81.0,200.0 L82.5,199.0 L84.0,198.0 L85.5,196.9 L87.0,195.9 L88.5,194.9 L90.0,194.1 L91.5,193.3 L93.0,192.7 L94.5,192.1 L96.0,191.7 L97.5,191.3 L99.0,190.9 L100.5,190.6 L102.0,190.2 L103.5,189.7 L105.0,189.1 L106.5,188.5 L108.0,187.6 L109.5,186.7 L111.0,185.8 L112.5,184.8 L114.0,183.8 L115.5,182.9 L117.0,182.1 L118.5,181.4 L120.0,180.8 L121.5,180.3 L123.0,179.9 L124.5,179.6 L126.0,179.4 L127.5,179.2 L129.0,178.9 L130.5,178.5 L132.0,178.0 L133.5,177.3 L135.0,176.4 L136.5,175.3 L138.0,174.1 L139.5,172.8 L141.0,171.5 L142.5,170.3 L144.0,169.2 L145.5,168.2 L147.0,167.3 L148.5,166.6 L150.0,166.1 L151.5,165.7 L153.0,165.5 L154.5,165.4 L156.0,165.2 L157.5,165.0 L159.0,164.7 L160.5,164.3 L162.0,163.7 L163.5,162.9 L165.0,162.0 L166.5,160.9 L168.0,159.7 L169.5,158.5 L171.0,157.4 L172.5,156.5 L174.0,155.7 L175.5,155.2 L177.0,154.8 L178.5,154.7 L180.0,154.8 L181.5,155.0 L183.0,155.3 L184.5,155.7 L186.0,156.0 L187.5,156.1 L189.0,156.0 L190.5,155.8 L192.0,155.4 L193.5,155.0 L195.0,154.6 L196.5,154.1 L198.0,153.6 L199.5,153.2 L201.0,152.7 L202.5,152.2 L204.0,151.6 L205.5,150.8 L207.0,149.8 L208.5,148.6 L210.0,147.2 L211.5,145.7 L213.0,144.1 L214.5,142.4 L216.0,140.8 L217.5,139.6 L219.0,138.5 L220.5,137.7 L222.0,137.2 L223.5,136.8 L225.0,136.6 L226.5,136.5 L228.0,136.5 L229.5,136.5 L231.0,136.3 L232.5,136.1 L234.0,135.6 L235.5,135.0 L237.0,134.1 L238.5,133.0 L240.0,131.7 L241.5,130.2 L243.0,128.7 L244.5,127.1 L246.0,125.5 L247.5,124.0 L249.0,122.7 L250.5,121.5 L252.0,120.6 L253.5,120.0 L255.0,119.5 L256.5,119.4 L258.0,119.4 L259.5,119.6 L261.0,119.8 L262.5,120.0 L264.0,120.2 L265.5,120.3 L267.0,120.2 L268.5,119.9 L270.0,119.3 L271.5,118.4 L273.0,117.3 L274.5,116.0 L276.0,114.5 L277.5,112.8 L279.0,111.1 L280.5,109.4 L282.0,107.8 L283.5,106.3 L285.0,105.0 L286.5,103.9 L288.0,103.0 L289.5,102.4 L291.0,102.0 L292.5,101.7 L294.0,101.6 L295.5,101.6 L297.0,101.5"/>
<path d="M41.5,233.7 L41.8,226.0 L42.0,221.3 L43.5,220.7 L45.0,220.1 L46.5,219.5 L48.0,218.9 L49.5,218.3 L51.0,217.5 L52.5,216.8 L54.0,216.0 L55.5,215.3 L57.0,214.6 L58.5,213.9 L60.0,213.2 L61.5,212.4 L63.0,211.6 L64.5,210.8 L66.0,210.0 L67.5,209.2 L69.0,208.4 L70.5,207.6 L72.0,206.7 L73.5,205.7 L75.0,204.7 L76.5,203.6 L78.0,202.4 L79.5,201.2 L81.0,200.2 L82.5,199.2 L84.0,198.3 L85.5,197.3 L87.0,196.4 L88.5,195.6 L90.0,194.8 L91.5,194.2 L93.0,193.6 L94.5,193.1 L96.0,192.7 L97.5,192.3 L99.0,192.0 L100.5,191.8 L102.0,191.6 L103.5,191.3 L105.0,191.0 L106.5,190.5 L108.0,190.0 L109.5,189.4 L111.0,188.7 L112.5,187.8 L114.0,186.9 L115.5,185.9 L117.0,184.9 L118.5,183.9 L120.0,182.9 L121.5,181.8 L123.0,180.8 L124.5,179.9 L126.0,179.1 L127.5,178.4 L129.0,177.8 L130.5,177.2 L132.0,176.7 L133.5,176.3 L135.0,175.8 L136.5,175.3 L138.0,174.7 L139.5,174.1 L141.0,173.5 L142.5,172.8 L144.0,172.0 L145.5,171.2 L147.0,170.3 L148.5,169.3 L150.0,168.4 L151.5,167.5 L153.0,166.6 L154.5,165.9 L156.0,165.2 L157.5,164.7 L159.0,164.4 L160.5,164.1 L162.0,164.0 L163.5,164.0 L165.0,164.1 L166.5,164.2 L168.0,164.2 L169.5,164.2 L171.0,164.1 L172.5,164.0 L174.0,163.7 L175.5,163.2 L177.0,162.6 L178.5,161.7 L180.0,160.8 L181.5,159.7 L183.0,158.6 L184.5,157.4 L186.0,156.4 L187.5,155.4 L189.0,154.5 L190.5,153.7 L192.0,153.1 L193.5,152.5 L195.0,152.2 L196.5,152.0 L198.0,151.9 L199.5,152.0 L201.0,152.1 L202.5,152.3 L204.0,152.4 L205.5,152.4 L207.0,152.2 L208.5,151.8 L210.0,151.3 L211.5,150.6 L213.0,149.7 L214.5,148.6 L216.0,147.3 L217.5,145.9 L219.0,144.4 L220.5,143.0 L222.0,141.7 L223.5,140.4 L225.0,139.4 L226.5,138.5 L228.0,137.9 L229.5,137.5 L231.0,137.2 L232.5,137.1 L234.0,137.1 L235.5,137.0 L237.0,137.0 L238.5,136.9 L240.0,136.6 L241.5,136.1 L243.0,135.4 L244.5,134.4 L246.0,133.2 L247.5,131.8 L249.0,130.2 L250.5,128.5 L252.0,126.8 L253.5,125.1 L255.0,123.5 L256.5,122.0 L258.0,120.7 L259.5,119.7 L261.0,118.9 L262.5,118.5 L264.0,118.2 L265.5,118.2 L267.0,118.4 L268.5,118.7 L270.0,119.0 L271.5,119.3 L273.0,119.5 L274.5,119.5 L276.0,119.4 L277.5,118.9 L279.0,118.2 L280.5,117.2 L282.0,116.0 L283.5,114.6 L285.0,113.0 L286.5,111.4 L288.0,109.7 L289.5,108.1 L291.0,106.6 L292.5,105.2 L294.0,104.1 L295.5,103.2 L297.0,102.5"/>
<path d="M41.5,233.7 L41.8,226.0 L42.0,221.7 L43.5,221.1 L45.0,220.5 L46.5,219.9 L48.0,219.3 L49.5,218.7 L51.0,218.0 L52.5,217.4 L54.0,216.7 L55.5,216.0 L57.0,215.4 L58.5,214.7 L60.0,214.1 L61.5,213.3 L63.0,212.4 L64.5,211.5 L66.0,210.6 L67.5,209.7 L69.0,208.7 L70.5,207.6 L72.0,206.5 L73.5,205.4 L75.0,204.3 L76.5,203.1 L78.0,202.0 L79.5,200.9 L81.0,200.1 L82.5,199.4 L84.0,198.8 L85.5,198.2 L87.0,197.8 L88.5,197.4 L90.0,197.0 L91.5,196.7 L93.0,196.3 L94.5,196.0 L96.0,195.7 L97.5,195.3 L99.0,194.8 L100.5,194.2 L102.0,193.6 L103.5,192.9 L105.0,192.2 L106.5,191.3 L108.0,190.4 L109.5,189.4 L111.0,188.4 L112.5,187.4 L114.0,186.4 L115.5,185.5 L117.0,184.7 L118.5,183.9 L120.0,183.2 L121.5,182.5 L123.0,181.9 L124.5,181.4 L126.0,180.9 L127.5,180.5 L129.0,180.0 L130.5,179.6 L132.0,179.1 L133.5,178.5 L135.0,177.9 L136.5,177.2 L138.0,176.4 L139.5,175.5 L141.0,174.7 L142.5,173.8 L144.0,172.9 L145.5,172.1 L147.0,171.2 L148.5,170.4 L150.0,169.7 L151.5,169.1 L153.0,168.6 L154.5,168.2 L156.0,167.9 L157.5,167.8 L159.0,167.7 L160.5,167.7 L162.0,167.7 L163.5,167.7 L165.0,167.7 L166.5,167.6 L168.0,167.4 L169.5,167.1 L171.0,166.7 L172.5,166.2 L174.0,165.5 L175.5,164.7 L177.0,163.8 L178.5,162.8 L180.0,161.7 L181.5,160.7 L183.0,159.6 L184.5,158.6 L186.0,157.9 L187.5,157.5 L189.0,157.2 L190.5,157.1 L192.0,157.1 L193.5,157.0 L195.0,157.0 L196.5,156.8 L198.0,156.5 L199.5,155.9 L201.0,155.2 L202.5,154.3 L204.0,153.3 L205.5,152.1 L207.0,150.8 L208.5,149.7 L210.0,148.7 L211.5,148.0 L213.0,147.5 L214.5,147.4 L216.0,147.6 L217.5,147.9 L219.0,148.2 L220.5,148.5 L222.0,148.6 L223.5,148.6 L225.0,148.4 L226.5,147.9 L228.0,147.1 L229.5,146.1 L231.0,144.8 L232.5,143.3 L234.0,141.7 L235.5,140.0 L237.0,138.3 L238.5,136.7 L240.0,135.2 L241.5,133.8 L243.0,132.7 L244.5,131.8 L246.0,131.1 L247.5,130.7 L249.0,130.5 L250.5,130.4 L252.0,130.3 L253.5,130.3 L255.0,130.3 L256.5,130.2 L258.0,129.9 L259.5,129.4 L261.0,128.7 L262.5,127.8 L264.0,126.7 L265.5,125.5 L267.0,124.0 L268.5,122.6 L270.0,121.1 L271.5,119.6 L273.0,118.3 L274.5,117.2 L276.0,116.2 L277.5,115.5 L279.0,115.0 L280.5,114.8 L282.0,114.8 L283.5,114.9 L285.0,115.2 L286.5,115.4 L288.0,115.7 L289.5,115.8 L291.0,115.8 L292.5,115.5 L294.0,115.0 L295.5,114.3 L297.0,113.2"/>
<path d="M41.5,233.7 L41.8,226.0 L42.0,222.2 L43.5,221.6 L45.0,221.0 L46.5,220.4 L48.0,219.8 L49.5,219.3 L51.0,218.6 L52.5,218.0 L54.0,217.3 L55.5,216.7 L57.0,216.1 L58.5,215.4 L60.0,214.8 L61.5,214.0 L63.0,213.1 L64.5,212.2 L66.0,211.3 L67.5,210.3 L69.0,209.2 L70.5,208.2 L72.0,207.0 L73.5,205.8 L75.0,204.7 L76.5,203.6 L78.0,202.5 L79.5,201.5 L81.0,200.7 L82.5,200.2 L84.0,199.7 L85.5,199.2 L87.0,198.8 L88.5,198.5 L90.0,198.1 L91.5,197.8 L93.0,197.4 L94.5,196.9 L96.0,196.4 L97.5,195.7 L99.0,195.0 L100.5,194.3 L102.0,193.5 L103.5,192.6 L105.0,191.8 L106.5,191.0 L108.0,190.2 L109.5,189.4 L111.0,188.8 L112.5,188.2 L114.0,187.8 L115.5,187.4 L117.0,187.1 L118.5,186.9 L120.0,186.7 L121.5,186.4 L123.0,186.0 L124.5,185.6 L126.0,185.1 L127.5,184.4 L129.0,183.6 L130.5,182.7 L132.0,181.6 L133.5,180.4 L135.0,179.2 L136.5,177.9 L138.0,176.7 L139.5,175.4 L141.0,174.4 L142.5,173.6 L144.0,172.9 L145.5,172.3 L147.0,171.9 L148.5,171.7 L150.0,171.5 L151.5,171.4 L153.0,171.4 L154.5,171.4 L156.0,171.3 L157.5,171.1 L159.0,170.8 L160.5,170.4 L162.0,169.8 L163.5,169.2 L165.0,168.4 L166.5,167.5 L168.0,166.5 L169.5,165.6 L171.0,164.8 L172.5,164.2 L174.0,163.6 L175.5,163.2 L177.0,162.9 L178.5,162.8 L180.0,162.9 L181.5,163.1 L183.0,163.3 L184.5,163.6 L186.0,163.8 L187.5,164.0 L189.0,164.1 L190.5,164.1 L192.0,163.9 L193.5,163.7 L195.0,163.3 L196.5,162.9 L198.0,162.3 L199.5,161.7 L201.0,160.9 L202.5,160.0 L204.0,159.0 L205.5,157.8 L207.0,156.4 L208.5,155.0 L210.0,153.5 L211.5,152.0 L213.0,150.5 L214.5,149.0 L216.0,147.8 L217.5,146.9 L219.0,146.2 L220.5,145.7 L222.0,145.5 L223.5,145.4 L225.0,145.5 L226.5,145.7 L228.0,145.8 L229.5,145.9 L231.0,145.8 L232.5,145.6 L234.0,145.1 L235.5,144.5 L237.0,143.6 L238.5,142.5 L240.0,141.2 L241.5,139.8 L243.0,138.4 L244.5,136.9 L246.0,135.6 L247.5,134.3 L249.0,133.3 L250.5,132.4 L252.0,131.8 L253.5,131.4 L255.0,131.3 L256.5,131.3 L258.0,131.5 L259.5,131.7 L261.0,132.0 L262.5,132.2 L264.0,132.2 L265.5,132.1 L267.0,131.7 L268.5,131.1 L270.0,130.2 L271.5,129.1 L273.0,127.8 L274.5,126.2 L276.0,124.6 L277.5,122.9 L279.0,121.2 L280.5,119.6 L282.0,118.1 L283.5,116.8 L285.0,115.7 L286.5,114.9 L288.0,114.3 L289.5,114.0 L291.0,113.8 L292.5,113.8 L294.0,113.9 L295.5,113.9 L297.0,113.9"/>
<path d="M41.5,233.7 L41.8,226.0 L42.0,222.6 L43.5,222.1 L45.0,221.6 L46.5,221.1 L48.0,220.6 L49.5,220.0 L51.0,219.4 L52.5,218.6 L54.0,217.9 L55.5,217.1 L57.0,216.3 L58.5,215.5 L60.0,214.6 L61.5,213.6 L63.0,212.7 L64.5,211.8 L66.0,211.0 L67.5,210.2 L69.0,209.4 L70.5,208.7 L72.0,208.0 L73.5,207.3 L75.0,206.6 L76.5,205.9 L78.0,205.1 L79.5,204.2 L81.0,203.5 L82.5,202.8 L84.0,202.0 L85.5,201.2 L87.0,200.4 L88.5,199.5 L90.0,198.7 L91.5,197.9 L93.0,197.2 L94.5,196.6 L96.0,196.0 L97.5,195.6 L99.0,195.2 L100.5,194.9 L102.0,194.7 L103.5,194.4 L105.0,194.1 L106.5,193.6 L108.0,193.1 L109.5,192.4 L111.0,191.5 L112.5,190.6 L114.0,189.6 L115.5,188.5 L117.0,187.4 L118.5,186.4 L120.0,185.4 L121.5,184.5 L123.0,183.7 L124.5,183.0 L126.0,182.5 L127.5,182.2 L129.0,182.0 L130.5,181.8 L132.0,181.7 L133.5,181.5 L135.0,181.2 L136.5,180.9 L138.0,180.4 L139.5,179.7 L141.0,179.0 L142.5,178.2 L144.0,177.3 L145.5,176.4 L147.0,175.5 L148.5,174.7 L150.0,174.0 L151.5,173.5 L153.0,173.1 L154.5,172.8 L156.0,172.7 L157.5,172.8 L159.0,172.8 L160.5,172.9 L162.0,173.0 L163.5,173.0 L165.0,172.8 L166.5,172.4 L168.0,171.8 L169.5,171.0 L171.0,170.1 L172.5,169.1 L174.0,168.0 L175.5,166.9 L177.0,165.8 L178.5,164.8 L180.0,164.0 L181.5,163.4 L183.0,162.9 L184.5,162.7 L186.0,162.9 L187.5,163.2 L189.0,163.5 L190.5,163.6 L192.0,163.4 L193.5,163.1 L195.0,162.5 L196.5,161.7 L198.0,160.8 L199.5,159.8 L201.0,158.9 L202.5,158.1 L204.0,157.4 L205.5,157.0 L207.0,156.7 L208.5,156.7 L210.0,156.9 L211.5,157.2 L213.0,157.6 L214.5,157.9 L216.0,157.8 L217.5,157.4 L219.0,156.7 L220.5,155.8 L222.0,154.7 L223.5,153.4 L225.0,151.9 L226.5,150.4 L228.0,148.9 L229.5,147.5 L231.0,146.2 L232.5,145.0 L234.0,144.1 L235.5,143.4 L237.0,142.9 L238.5,142.6 L240.0,142.4 L241.5,142.4 L243.0,142.5 L244.5,142.5 L246.0,142.5 L247.5,142.3 L249.0,141.9 L250.5,141.4 L252.0,140.6 L253.5,139.5 L255.0,138.3 L256.5,136.9 L258.0,135.3 L259.5,133.7 L261.0,132.1 L262.5,130.5 L264.0,129.1 L265.5,127.9 L267.0,126.9 L268.5,126.1 L270.0,125.6 L271.5,125.4 L273.0,125.4 L274.5,125.6 L276.0,125.9 L277.5,126.2 L279.0,126.5 L280.5,126.8 L282.0,126.9 L283.5,126.8 L285.0,126.5 L286.5,125.9 L288.0,125.1 L289.5,124.0 L291.0,122.8 L292.5,121.4 L294.0,119.9 L295.5,118.4 L297.0,116.9"/>
<path d="M41.5,233.7 L41.8,226.0 L42.0,223.1 L43.5,222.5 L45.0,222.0 L46.5,221.4 L48.0,220.8 L49.5,220.2 L51.0,219.5 L52.5,218.8 L54.0,218.0 L55.5,217.3 L57.0,216.7 L58.5,216.0 L60.0,215.4 L61.5,214.7 L63.0,213.9 L64.5,213.2 L66.0,212.5 L67.5,211.8 L69.0,211.1 L70.5,210.3 L72.0,209.4 L73.5,208.5 L75.0,207.6 L76.5,206.6 L78.0,205.5 L79.5,204.5 L81.0,203.6 L82.5,202.8 L84.0,202.1 L85.5,201.3 L87.0,200.6 L88.5,200.0 L90.0,199.3 L91.5,198.8 L93.0,198.3 L94.5,197.8 L96.0,197.4 L97.5,197.0 L99.0,196.7 L100.5,196.3 L102.0,196.0 L103.5,195.6 L105.0,195.2 L106.5,194.7 L108.0,194.1 L109.5,193.4 L111.0,192.6 L112.5,191.8 L114.0,190.9 L115.5,189.9 L117.0,189.0 L118.5,188.0 L120.0,187.1 L121.5,186.1 L123.0,185.2 L124.5,184.4 L126.0,183.7 L127.5,183.1 L129.0,182.6 L130.5,182.3 L132.0,182.0 L133.5,181.8 L135.0,181.6 L136.5,181.4 L138.0,181.2 L139.5,181.0 L141.0,180.8 L142.5,180.5 L144.0,180.1 L145.5,179.7 L147.0,179.1 L148.5,178.5 L150.0,177.7 L151.5,176.9 L153.0,176.1 L154.5,175.3 L156.0,174.5 L157.5,173.8 L159.0,173.2 L160.5,172.6 L162.0,172.2 L163.5,171.9 L165.0,171.6 L166.5,171.5 L168.0,171.4 L169.5,171.4 L171.0,171.5 L172.5,171.7 L174.0,171.7 L175.5,171.7 L177.0,171.6 L178.5,171.4 L180.0,171.0 L181.5,170.5 L183.0,169.9 L184.5,169.1 L186.0,168.4 L187.5,167.7 L189.0,167.0 L190.5,166.4 L192.0,165.8 L193.5,165.2 L195.0,164.6 L196.5,163.9 L198.0,163.2 L199.5,162.4 L201.0,161.6 L202.5,160.7 L204.0,159.8 L205.5,158.8 L207.0,157.8 L208.5,157.0 L210.0,156.3 L211.5,155.8 L213.0,155.5 L214.5,155.5 L216.0,155.7 L217.5,156.0 L219.0,156.3 L220.5,156.5 L222.0,156.5 L223.5,156.4 L225.0,156.0 L226.5,155.4 L228.0,154.6 L229.5,153.6 L231.0,152.3 L232.5,151.0 L234.0,149.6 L235.5,148.2 L237.0,146.9 L238.5,145.6 L240.0,144.6 L241.5,143.8 L243.0,143.2 L244.5,142.8 L246.0,142.7 L247.5,142.7 L249.0,142.8 L250.5,143.0 L252.0,143.2 L253.5,143.3 L255.0,143.3 L256.5,143.1 L258.0,142.7 L259.5,142.0 L261.0,141.1 L262.5,139.9 L264.0,138.6 L265.5,137.0 L267.0,135.4 L268.5,133.7 L270.0,132.0 L271.5,130.5 L273.0,129.1 L274.5,127.9 L276.0,126.9 L277.5,126.2 L279.0,125.8 L280.5,125.5 L282.0,125.5 L283.5,125.6 L285.0,125.8 L286.5,125.9 L288.0,126.0 L289.5,126.0 L291.0,125.9 L292.5,125.5 L294.0,124.9 L295.5,124.1 L297.0,123.0"/>
<path d="M41.5,233.7 L41.8,226.0 L42.0,223.6 L43.5,223.2 L45.0,222.7 L46.5,222.3 L48.0,221.8 L49.5,221.3 L51.0,220.7 L52.5,220.0 L54.0,219.2 L55.5,218.4 L57.0,217.6 L58.5,216.8 L60.0,216.0 L61.5,215.0 L63.0,214.1 L64.5,213.2 L66.0,212.3 L67.5,211.5 L69.0,210.7 L70.5,209.9 L72.0,209.2 L73.5,208.4 L75.0,207.6 L76.5,206.9 L78.0,206.1 L79.5,205.2 L81.0,204.5 L82.5,203.9 L84.0,203.2 L85.5,202.5 L87.0,201.7 L88.5,200.9 L90.0,200.2 L91.5,199.4 L93.0,198.7 L94.5,198.1 L96.0,197.6 L97.5,197.1 L99.0,196.7 L100.5,196.4 L102.0,196.3 L103.5,196.1 L105.0,196.0 L106.5,195.8 L108.0,195.5 L109.5,195.1 L111.0,194.7 L112.5,194.1 L114.0,193.3 L115.5,192.5 L117.0,191.5 L118.5,190.5 L120.0,189.5 L121.5,188.3 L123.0,187.3 L124.5,186.3 L126.0,185.4 L127.5,184.7 L129.0,184.1 L130.5,183.6 L132.0,183.3 L133.5,183.1 L135.0,183.0 L136.5,182.9 L138.0,182.8 L139.5,182.7 L141.0,182.5 L142.5,182.3 L144.0,182.0 L145.5,181.5 L147.0,181.0 L148.5,180.3 L150.0,179.5 L151.5,178.7 L153.0,177.9 L154.5,177.1 L156.0,176.4 L157.5,175.8 L159.0,175.3 L160.5,174.9 L162.0,174.7 L163.5,174.6 L165.0,174.6 L166.5,174.6 L168.0,174.6 L169.5,174.5 L171.0,174.5 L172.5,174.4 L174.0,174.1 L175.5,173.6 L177.0,173.0 L178.5,172.2 L180.0,171.3 L181.5,170.3 L183.0,169.3 L184.5,168.3 L186.0,167.4 L187.5,166.6 L189.0,166.0 L190.5,165.5 L192.0,165.2 L193.5,165.1 L195.0,165.1 L196.5,165.3 L198.0,165.7 L199.5,166.1 L201.0,166.5 L202.5,166.9 L204.0,167.1 L205.5,167.2 L207.0,166.9 L208.5,166.5 L210.0,165.9 L211.5,165.1 L213.0,164.0 L214.5,162.9 L216.0,161.5 L217.5,160.1 L219.0,158.7 L220.5,157.3 L222.0,156.1 L223.5,155.0 L225.0,154.1 L226.5,153.5 L228.0,153.0 L229.5,152.8 L231.0,152.7 L232.5,152.7 L234.0,152.7 L235.5,152.8 L237.0,152.7 L238.5,152.6 L240.0,152.2 L241.5,151.7 L243.0,150.9 L244.5,149.9 L246.0,148.7 L247.5,147.3 L249.0,145.9 L250.5,144.3 L252.0,142.8 L253.5,141.4 L255.0,140.1 L256.5,139.1 L258.0,138.2 L259.5,137.7 L261.0,137.3 L262.5,137.3 L264.0,137.4 L265.5,137.7 L267.0,138.1 L268.5,138.5 L270.0,138.9 L271.5,139.2 L273.0,139.3 L274.5,139.2 L276.0,138.8 L277.5,138.2 L279.0,137.3 L280.5,136.1 L282.0,134.7 L283.5,133.2 L285.0,131.6 L286.5,130.0 L288.0,128.4 L289.5,127.0 L291.0,125.7 L292.5,124.6 L294.0,123.8 L295.5,123.2 L297.0,122.8"/>
<path d="M41.5,233.7 L41.8,226.0 L42.0,224.1 L43.5,223.7 L45.0,223.2 L46.5,222.7 L48.0,222.2 L49.5,221.7 L51.0,221.0 L52.5,220.2 L54.0,219.5 L55.5,218.8 L57.0,218.1 L58.5,217.5 L60.0,216.9 L61.5,216.2 L63.0,215.5 L64.5,214.8 L66.0,214.0 L67.5,213.3 L69.0,212.4 L70.5,211.5 L72.0,210.4 L73.5,209.3 L75.0,208.1 L76.5,206.9 L78.0,205.7 L79.5,204.6 L81.0,203.7 L82.5,203.1 L84.0,202.5 L85.5,202.1 L87.0,201.7 L88.5,201.4 L90.0,201.2 L91.5,200.9 L93.0,200.6 L94.5,200.2 L96.0,199.6 L97.5,199.0 L99.0,198.2 L100.5,197.4 L102.0,196.6 L103.5,195.8 L105.0,195.1 L106.5,194.4 L108.0,193.9 L109.5,193.5 L111.0,193.3 L112.5,193.3 L114.0,193.3 L115.5,193.3 L117.0,193.4 L118.5,192.9 L120.0,192.5 L121.5,192.0 L123.0,191.4 L124.5,190.9 L126.0,190.4 L127.5,189.5 L129.0,188.4 L130.5,187.3 L132.0,186.3 L133.5,185.3 L135.0,184.6 L136.5,184.0 L138.0,183.7 L139.5,183.4 L141.0,183.4 L142.5,183.4 L144.0,183.4 L145.5,183.2 L147.0,182.9 L148.5,182.4 L150.0,181.7 L151.5,180.9 L153.0,179.8 L154.5,178.7 L156.0,177.5 L157.5,176.5 L159.0,175.5 L160.5,174.8 L162.0,174.3 L163.5,174.1 L165.0,174.0 L166.5,174.2 L168.0,174.4 L169.5,174.7 L171.0,175.1 L172.5,175.3 L174.0,175.4 L175.5,175.3 L177.0,174.9 L178.5,174.3 L180.0,173.6 L181.5,172.8 L183.0,172.0 L184.5,171.2 L186.0,170.9 L187.5,170.8 L189.0,170.9 L190.5,171.0 L192.0,171.1 L193.5,171.2 L195.0,171.1 L196.5,170.9 L198.0,170.5 L199.5,169.9 L201.0,169.3 L202.5,168.8 L204.0,168.5 L205.5,168.0 L207.0,167.5 L208.5,167.2 L210.0,167.0 L211.5,166.9 L213.0,166.8 L214.5,166.7 L216.0,166.2 L217.5,165.3 L219.0,164.2 L220.5,162.9 L222.0,161.4 L223.5,159.8 L225.0,158.2 L226.5,156.6 L228.0,155.1 L229.5,153.8 L231.0,152.7 L232.5,151.8 L234.0,151.2 L235.5,150.8 L237.0,150.7 L238.5,150.8 L240.0,151.0 L241.5,151.3 L243.0,151.7 L244.5,152.0 L246.0,152.2 L247.5,152.2 L249.0,152.0 L250.5,151.6 L252.0,150.9 L253.5,150.1 L255.0,149.0 L256.5,147.8 L258.0,146.4 L259.5,145.1 L261.0,143.7 L262.5,142.5 L264.0,141.4 L265.5,140.5 L267.0,139.9 L268.5,139.4 L270.0,139.2 L271.5,139.1 L273.0,139.2 L274.5,139.4 L276.0,139.7 L277.5,139.9 L279.0,140.0 L280.5,139.9 L282.0,139.6 L283.5,139.1 L285.0,138.4 L286.5,137.3 L288.0,136.1 L289.5,134.7 L291.0,133.1 L292.5,131.5 L294.0,129.8 L295.5,128.2 L297.0,126.8"/>
<path d="M41.5,233.7 L41.8,226.0 L42.0,224.5 L43.5,224.0 L45.0,223.6 L46.5,223.1 L48.0,222.6 L49.5,222.1 L51.0,221.5 L52.5,220.8 L54.0,220.1 L55.5,219.4 L57.0,218.7 L58.5,218.0 L60.0,217.4 L61.5,216.6 L63.0,215.8 L64.5,215.0 L66.0,214.2 L67.5,213.4 L69.0,212.6 L70.5,211.7 L72.0,210.8 L73.5,209.9 L75.0,209.0 L76.5,208.1 L78.0,207.2 L79.5,206.3 L81.0,205.5 L82.5,204.7 L84.0,204.0 L85.5,203.2 L87.0,202.4 L88.5,201.7 L90.0,201.0 L91.5,200.3 L93.0,199.7 L94.5,199.2 L96.0,198.8 L97.5,198.4 L99.0,198.1 L100.5,197.9 L102.0,197.8 L103.5,197.4 L105.0,197.0 L106.5,196.6 L108.0,196.1 L109.5,195.7 L111.0,195.2 L112.5,194.8 L114.0,194.3 L115.5,193.8 L117.0,193.4 L118.5,192.9 L120.0,192.5 L121.5,192.0 L123.0,191.4 L124.5,190.9 L126.0,190.2 L127.5,189.4 L129.0,188.6 L130.5,187.9 L132.0,187.2 L133.5,186.6 L135.0,186.2 L136.5,185.8 L138.0,185.4 L139.5,185.1 L141.0,184.9 L142.5,184.8 L144.0,184.4 L145.5,183.9 L147.0,183.5 L148.5,183.1 L150.0,182.7 L151.5,182.2 L153.0,181.8 L154.5,181.4 L156.0,181.0 L157.5,180.2 L159.0,179.4 L160.5,178.6 L162.0,177.8 L163.5,177.0 L165.0,176.3 L166.5,175.7 L168.0,175.2 L169.5,174.8 L171.0,174.7 L172.5,174.7 L174.0,174.8 L175.5,175.1 L177.0,175.4 L178.5,175.5 L180.0,175.3 L181.5,175.0 L183.0,174.8 L184.5,174.5 L186.0,174.3 L187.5,174.2 L189.0,174.1 L190.5,174.1 L192.0,174.2 L193.5,174.0 L195.0,173.8 L196.5,173.6 L198.0,173.4 L199.5,173.1 L201.0,172.7 L202.5,172.1 L204.0,171.6 L205.5,170.8 L207.0,169.5 L208.5,168.1 L210.0,166.7 L211.5,165.3 L213.0,164.0 L214.5,162.8 L216.0,161.9 L217.5,161.3 L219.0,161.0 L220.5,160.8 L222.0,160.9 L223.5,161.0 L225.0,161.3 L226.5,161.5 L228.0,161.7 L229.5,161.7 L231.0,161.3 L232.5,160.7 L234.0,160.1 L235.5,159.5 L237.0,158.9 L238.5,157.8 L240.0,156.6 L241.5,155.2 L243.0,153.9 L244.5,152.6 L246.0,151.5 L247.5,150.6 L249.0,149.8 L250.5,149.3 L252.0,149.1 L253.5,149.0 L255.0,149.2 L256.5,149.5 L258.0,149.8 L259.5,149.7 L261.0,149.0 L262.5,148.4 L264.0,147.8 L265.5,147.2 L267.0,146.6 L268.5,146.0 L270.0,145.3 L271.5,144.7 L273.0,144.1 L274.5,143.5 L276.0,142.5 L277.5,140.9 L279.0,139.4 L280.5,138.0 L282.0,136.8 L283.5,135.9 L285.0,135.1 L286.5,134.7 L288.0,134.4 L289.5,134.3 L291.0,134.4 L292.5,134.6 L294.0,134.8 L295.5,134.9 L297.0,134.3"/>
</g>
<line x1="76.8" y1="233.7" x2="76.8" y2="213.79999999999998" stroke="#606060" stroke-width="0.6"/>
<line x1="80.4" y1="233.7" x2="80.4" y2="213.79999999999998" stroke="#606060" stroke-width="0.6"/>
<line x1="83.4" y1="233.7" x2="83.4" y2="213.79999999999998" stroke="#606060" stroke-width="0.6"/>
<line x1="143.8" y1="213.79999999999998" x2="143.8" y2="193.89999999999998" stroke="#606060" stroke-width="0.6"/>
<line x1="152.4" y1="213.79999999999998" x2="152.4" y2="193.89999999999998" stroke="#606060" stroke-width="0.6"/>
<line x1="153.7" y1="213.79999999999998" x2="153.7" y2="193.89999999999998" stroke="#606060" stroke-width="0.6"/>
<line x1="155.4" y1="213.79999999999998" x2="155.4" y2="193.89999999999998" stroke="#606060" stroke-width="0.6"/>
<line x1="180.0" y1="213.79999999999998" x2="180.0" y2="193.89999999999998" stroke="#606060" stroke-width="0.6"/>
<line x1="247.0" y1="193.89999999999998" x2="247.0" y2="174.0" stroke="#606060" stroke-width="0.6"/>
<line x1="40.8" y1="233.7" x2="82.3" y2="233.7" stroke="#505050" stroke-width="4.7" stroke-linecap="round"/>
<line x1="77.5" y1="213.79999999999998" x2="144.0" y2="213.79999999999998" stroke="#505050" stroke-width="4.7" stroke-linecap="round"/>
<line x1="143.5" y1="193.89999999999998" x2="156.9" y2="193.89999999999998" stroke="#505050" stroke-width="4.7" stroke-linecap="round"/>
<line x1="152.2" y1="213.79999999999998" x2="178.9" y2="213.79999999999998" stroke="#505050" stroke-width="4.7" stroke-linecap="round"/>
<line x1="179.4" y1="193.89999999999998" x2="246.9" y2="193.89999999999998" stroke="#505050" stroke-width="4.7" stroke-linecap="round"/>
<line x1="247.3" y1="174.0" x2="297.2" y2="174.0" stroke="#505050" stroke-width="4.7" stroke-linecap="round"/>
<circle cx="77.5" cy="213.79999999999998" r="1.9" fill="#c8c8c8" stroke="#4d4d4d" stroke-width="0.9"/>
<circle cx="82.3" cy="233.7" r="1.9" fill="#c8c8c8" stroke="#4d4d4d" stroke-width="0.9"/>
<circle cx="156.70000000000002" cy="193.89999999999998" r="1.9" fill="#c8c8c8" stroke="#4d4d4d" stroke-width="0.9"/>
<circle cx="152.2" cy="213.79999999999998" r="1.9" fill="#c8c8c8" stroke="#4d4d4d" stroke-width="0.9"/>
<circle cx="179.4" cy="193.89999999999998" r="1.9" fill="#c8c8c8" stroke="#4d4d4d" stroke-width="0.9"/>
<circle cx="247.3" cy="174.0" r="1.9" fill="#c8c8c8" stroke="#4d4d4d" stroke-width="0.9"/>
<rect x="41.5" y="35.5" width="256.0" height="198.2" fill="none" stroke="#8c8c8c" stroke-width="1"/>
<line x1="73.5" y1="233.7" x2="73.5" y2="231.2" stroke="#8c8c8c" stroke-width="0.8"/>
<line x1="73.5" y1="35.5" x2="73.5" y2="38.0" stroke="#8c8c8c" stroke-width="0.8"/>
<line x1="105.5" y1="233.7" x2="105.5" y2="231.2" stroke="#8c8c8c" stroke-width="0.8"/>
<line x1="105.5" y1="35.5" x2="105.5" y2="38.0" stroke="#8c8c8c" stroke-width="0.8"/>
<line x1="137.5" y1="233.7" x2="137.5" y2="231.2" stroke="#8c8c8c" stroke-width="0.8"/>
<line x1="137.5" y1="35.5" x2="137.5" y2="38.0" stroke="#8c8c8c" stroke-width="0.8"/>
<line x1="169.5" y1="233.7" x2="169.5" y2="231.2" stroke="#8c8c8c" stroke-width="0.8"/>
<line x1="169.5" y1="35.5" x2="169.5" y2="38.0" stroke="#8c8c8c" stroke-width="0.8"/>
<line x1="201.5" y1="233.7" x2="201.5" y2="231.2" stroke="#8c8c8c" stroke-width="0.8"/>
<line x1="201.5" y1="35.5" x2="201.5" y2="38.0" stroke="#8c8c8c" stroke-width="0.8"/>
<line x1="233.5" y1="233.7" x2="233.5" y2="231.2" stroke="#8c8c8c" stroke-width="0.8"/>
<line x1="233.5" y1="35.5" x2="233.5" y2="38.0" stroke="#8c8c8c" stroke-width="0.8"/>
<line x1="265.5" y1="233.7" x2="265.5" y2="231.2" stroke="#8c8c8c" stroke-width="0.8"/>
<line x1="265.5" y1="35.5" x2="265.5" y2="38.0" stroke="#8c8c8c" stroke-width="0.8"/>
<line x1="41.5" y1="193.9" x2="44.0" y2="193.9" stroke="#8c8c8c" stroke-width="0.8"/>
<line x1="41.5" y1="154.1" x2="44.0" y2="154.1" stroke="#8c8c8c" stroke-width="0.8"/>
<line x1="41.5" y1="114.3" x2="44.0" y2="114.3" stroke="#8c8c8c" stroke-width="0.8"/>
<line x1="41.5" y1="74.5" x2="44.0" y2="74.5" stroke="#8c8c8c" stroke-width="0.8"/>
<line x1="297.5" y1="213.8" x2="295.0" y2="213.8" stroke="#8c8c8c" stroke-width="0.8"/>
<line x1="297.5" y1="193.9" x2="295.0" y2="193.9" stroke="#8c8c8c" stroke-width="0.8"/>
<line x1="297.5" y1="174.0" x2="295.0" y2="174.0" stroke="#8c8c8c" stroke-width="0.8"/>
<line x1="297.5" y1="154.1" x2="295.0" y2="154.1" stroke="#8c8c8c" stroke-width="0.8"/>
<line x1="297.5" y1="134.2" x2="295.0" y2="134.2" stroke="#8c8c8c" stroke-width="0.8"/>
<line x1="297.5" y1="114.3" x2="295.0" y2="114.3" stroke="#8c8c8c" stroke-width="0.8"/>
<line x1="297.5" y1="94.4" x2="295.0" y2="94.4" stroke="#8c8c8c" stroke-width="0.8"/>
<line x1="297.5" y1="74.5" x2="295.0" y2="74.5" stroke="#8c8c8c" stroke-width="0.8"/>
<line x1="297.5" y1="54.6" x2="295.0" y2="54.6" stroke="#8c8c8c" stroke-width="0.8"/>
<ellipse cx="79.8" cy="156.3" rx="22.6" ry="21.8" fill="none" stroke="#9a9a9a" stroke-width="0.5"/>
<circle cx="79.80" cy="134.50" r="3.4" fill="#1f72c0"/>
<circle cx="88.45" cy="136.16" r="3.4" fill="#1f72c0"/>
<circle cx="95.78" cy="140.89" r="3.4" fill="#1f72c0"/>
<circle cx="100.68" cy="147.96" r="3.4" fill="#1f72c0"/>
<circle cx="102.40" cy="156.30" r="3.4" fill="#1f72c0"/>
<circle cx="100.68" cy="164.64" r="3.4" fill="#1f72c0"/>
<circle cx="95.78" cy="171.71" r="3.4" fill="#1f72c0"/>
<circle cx="88.45" cy="176.44" r="3.4" fill="#1f72c0"/>
<circle cx="79.80" cy="178.10" r="3.4" fill="#1f72c0"/>
<circle cx="71.15" cy="176.44" r="3.4" fill="#1f72c0"/>
<circle cx="63.82" cy="171.71" r="3.4" fill="#1f72c0"/>
<circle cx="58.92" cy="164.64" r="3.4" fill="#1f72c0"/>
<circle cx="57.20" cy="156.30" r="3.4" fill="#1f72c0"/>
<circle cx="58.92" cy="147.96" r="3.4" fill="#1f72c0"/>
<circle cx="63.82" cy="140.89" r="3.4" fill="#1f72c0"/>
<circle cx="71.15" cy="136.16" r="3.4" fill="#1f72c0"/>
<text x="63.6" y="160.8" font-size="13.4" text-anchor="start" fill="#3a3a3a" textLength="33.6" lengthAdjust="spacingAndGlyphs">N=16</text>
<rect x="70.3" y="43.8" width="120.89999999999999" height="72.7" fill="#ffffff" stroke="#8c8c8c" stroke-width="0.9"/>
<line x1="70.3" y1="68.4" x2="72.3" y2="68.4" stroke="#8c8c8c" stroke-width="0.7"/>
<line x1="191.2" y1="68.4" x2="189.2" y2="68.4" stroke="#8c8c8c" stroke-width="0.7"/>
<line x1="70.3" y1="92.2" x2="72.3" y2="92.2" stroke="#8c8c8c" stroke-width="0.7"/>
<line x1="191.2" y1="92.2" x2="189.2" y2="92.2" stroke="#8c8c8c" stroke-width="0.7"/>
<line x1="126.3" y1="116.5" x2="126.3" y2="114.5" stroke="#8c8c8c" stroke-width="0.7"/>
<circle cx="70.3" cy="109.5" r="1.75" fill="none" stroke="#0072bd" stroke-width="0.85"/>
<circle cx="78.4" cy="109.5" r="1.75" fill="none" stroke="#0072bd" stroke-width="0.85"/>
<circle cx="86.4" cy="113.5" r="1.75" fill="none" stroke="#0072bd" stroke-width="0.85"/>
<circle cx="94.5" cy="112.7" r="1.75" fill="none" stroke="#0072bd" stroke-width="0.85"/>
<circle cx="102.5" cy="110.5" r="1.75" fill="none" stroke="#0072bd" stroke-width="0.85"/>
<circle cx="110.6" cy="112.3" r="1.75" fill="none" stroke="#0072bd" stroke-width="0.85"/>
<circle cx="118.7" cy="112.3" r="1.75" fill="none" stroke="#0072bd" stroke-width="0.85"/>
<circle cx="126.7" cy="112.0" r="1.75" fill="none" stroke="#0072bd" stroke-width="0.85"/>
<circle cx="134.8" cy="112.0" r="1.75" fill="none" stroke="#0072bd" stroke-width="0.85"/>
<circle cx="142.8" cy="112.4" r="1.75" fill="none" stroke="#0072bd" stroke-width="0.85"/>
<circle cx="150.9" cy="116.4" r="1.75" fill="none" stroke="#0072bd" stroke-width="0.85"/>
<circle cx="159.0" cy="116.4" r="1.75" fill="none" stroke="#0072bd" stroke-width="0.85"/>
<circle cx="167.0" cy="115.3" r="1.75" fill="none" stroke="#0072bd" stroke-width="0.85"/>
<circle cx="175.1" cy="116.4" r="1.75" fill="none" stroke="#0072bd" stroke-width="0.85"/>
<circle cx="183.1" cy="116.4" r="1.75" fill="none" stroke="#0072bd" stroke-width="0.85"/>
<circle cx="191.2" cy="116.4" r="1.75" fill="none" stroke="#0072bd" stroke-width="0.85"/>
<path d="M68.3,95.6 L72.3,95.6 L70.3,99.2 Z" fill="none" stroke="#d95319" stroke-width="0.85"/>
<path d="M76.4,91.6 L80.4,91.6 L78.4,95.2 Z" fill="none" stroke="#d95319" stroke-width="0.85"/>
<path d="M84.4,94.6 L88.4,94.6 L86.4,98.2 Z" fill="none" stroke="#d95319" stroke-width="0.85"/>
<path d="M92.5,96.3 L96.5,96.3 L94.5,99.9 Z" fill="none" stroke="#d95319" stroke-width="0.85"/>
<path d="M100.5,99.3 L104.5,99.3 L102.5,102.9 Z" fill="none" stroke="#d95319" stroke-width="0.85"/>
<path d="M108.6,101.5 L112.6,101.5 L110.6,105.1 Z" fill="none" stroke="#d95319" stroke-width="0.85"/>
<path d="M116.7,102.2 L120.7,102.2 L118.7,105.8 Z" fill="none" stroke="#d95319" stroke-width="0.85"/>
<path d="M124.7,103.8 L128.7,103.8 L126.7,107.4 Z" fill="none" stroke="#d95319" stroke-width="0.85"/>
<path d="M132.8,103.3 L136.8,103.3 L134.8,106.9 Z" fill="none" stroke="#d95319" stroke-width="0.85"/>
<path d="M140.8,104.9 L144.8,104.9 L142.8,108.5 Z" fill="none" stroke="#d95319" stroke-width="0.85"/>
<path d="M148.9,109.3 L152.9,109.3 L150.9,112.9 Z" fill="none" stroke="#d95319" stroke-width="0.85"/>
<path d="M157.0,114.8 L161.0,114.8 L159.0,118.4 Z" fill="none" stroke="#d95319" stroke-width="0.85"/>
<path d="M165.0,113.3 L169.0,113.3 L167.0,116.9 Z" fill="none" stroke="#d95319" stroke-width="0.85"/>
<path d="M173.1,114.1 L177.1,114.1 L175.1,117.7 Z" fill="none" stroke="#d95319" stroke-width="0.85"/>
<path d="M181.1,114.8 L185.1,114.8 L183.1,118.4 Z" fill="none" stroke="#d95319" stroke-width="0.85"/>
<path d="M189.2,109.7 L193.2,109.7 L191.2,113.3 Z" fill="none" stroke="#d95319" stroke-width="0.85"/>
<rect x="68.7" y="78.2" width="3.2" height="3.2" fill="none" stroke="#edb120" stroke-width="0.85"/>
<rect x="76.8" y="69.2" width="3.2" height="3.2" fill="none" stroke="#edb120" stroke-width="0.85"/>
<rect x="84.8" y="70.2" width="3.2" height="3.2" fill="none" stroke="#edb120" stroke-width="0.85"/>
<rect x="92.9" y="74.7" width="3.2" height="3.2" fill="none" stroke="#edb120" stroke-width="0.85"/>
<rect x="100.9" y="77.0" width="3.2" height="3.2" fill="none" stroke="#edb120" stroke-width="0.85"/>
<rect x="109.0" y="79.3" width="3.2" height="3.2" fill="none" stroke="#edb120" stroke-width="0.85"/>
<rect x="117.1" y="84.0" width="3.2" height="3.2" fill="none" stroke="#edb120" stroke-width="0.85"/>
<rect x="125.1" y="89.8" width="3.2" height="3.2" fill="none" stroke="#edb120" stroke-width="0.85"/>
<rect x="133.2" y="92.0" width="3.2" height="3.2" fill="none" stroke="#edb120" stroke-width="0.85"/>
<rect x="141.2" y="95.4" width="3.2" height="3.2" fill="none" stroke="#edb120" stroke-width="0.85"/>
<rect x="149.3" y="98.1" width="3.2" height="3.2" fill="none" stroke="#edb120" stroke-width="0.85"/>
<rect x="157.4" y="102.6" width="3.2" height="3.2" fill="none" stroke="#edb120" stroke-width="0.85"/>
<rect x="165.4" y="110.6" width="3.2" height="3.2" fill="none" stroke="#edb120" stroke-width="0.85"/>
<rect x="173.5" y="111.1" width="3.2" height="3.2" fill="none" stroke="#edb120" stroke-width="0.85"/>
<rect x="181.5" y="111.1" width="3.2" height="3.2" fill="none" stroke="#edb120" stroke-width="0.85"/>
<rect x="189.6" y="114.8" width="3.2" height="3.2" fill="none" stroke="#edb120" stroke-width="0.85"/>
<path d="M68.9,53.2 L71.7,56.0 M68.9,56.0 L71.7,53.2" stroke="#7e2f8e" stroke-width="0.9"/>
<path d="M77.0,46.5 L79.8,49.3 M77.0,49.3 L79.8,46.5" stroke="#7e2f8e" stroke-width="0.9"/>
<path d="M85.0,53.9 L87.8,56.7 M85.0,56.7 L87.8,53.9" stroke="#7e2f8e" stroke-width="0.9"/>
<path d="M93.1,59.2 L95.9,62.0 M93.1,62.0 L95.9,59.2" stroke="#7e2f8e" stroke-width="0.9"/>
<path d="M101.1,64.7 L103.9,67.5 M101.1,67.5 L103.9,64.7" stroke="#7e2f8e" stroke-width="0.9"/>
<path d="M109.2,70.1 L112.0,72.9 M109.2,72.9 L112.0,70.1" stroke="#7e2f8e" stroke-width="0.9"/>
<path d="M117.3,76.1 L120.1,78.9 M117.3,78.9 L120.1,76.1" stroke="#7e2f8e" stroke-width="0.9"/>
<path d="M125.3,81.8 L128.1,84.6 M125.3,84.6 L128.1,81.8" stroke="#7e2f8e" stroke-width="0.9"/>
<path d="M133.4,81.8 L136.2,84.6 M133.4,84.6 L136.2,81.8" stroke="#7e2f8e" stroke-width="0.9"/>
<path d="M141.4,89.1 L144.2,91.9 M141.4,91.9 L144.2,89.1" stroke="#7e2f8e" stroke-width="0.9"/>
<path d="M149.5,94.7 L152.3,97.5 M149.5,97.5 L152.3,94.7" stroke="#7e2f8e" stroke-width="0.9"/>
<path d="M157.6,96.7 L160.4,99.5 M157.6,99.5 L160.4,96.7" stroke="#7e2f8e" stroke-width="0.9"/>
<path d="M165.6,96.7 L168.4,99.5 M165.6,99.5 L168.4,96.7" stroke="#7e2f8e" stroke-width="0.9"/>
<path d="M173.7,102.0 L176.5,104.8 M173.7,104.8 L176.5,102.0" stroke="#7e2f8e" stroke-width="0.9"/>
<path d="M181.7,115.0 L184.5,117.8 M181.7,117.8 L184.5,115.0" stroke="#7e2f8e" stroke-width="0.9"/>
<path d="M189.8,106.2 L192.6,109.0 M189.8,109.0 L192.6,106.2" stroke="#7e2f8e" stroke-width="0.9"/>
<rect x="116.3" y="47.2" width="68.7" height="19.2" fill="#ffffff" stroke="#8c8c8c" stroke-width="0.8"/>
<circle cx="120.2" cy="51.9" r="1.6" fill="none" stroke="#0072bd" stroke-width="0.85"/>
<path d="M135.6,50.4 L139.4,50.4 L137.5,53.8 Z" fill="none" stroke="#d95319" stroke-width="0.85"/>
<rect x="153.1" y="50.4" width="3.0" height="3.0" fill="none" stroke="#edb120" stroke-width="0.85"/>
<path d="M170.3,50.6 L172.9,53.2 M170.3,53.2 L172.9,50.6" stroke="#7e2f8e" stroke-width="0.9"/>
<text x="125.1" y="54.4" font-size="6.3" text-anchor="start" fill="#222">0</text>
<text x="142.6" y="54.4" font-size="6.3" text-anchor="start" fill="#222">1</text>
<text x="159.3" y="54.4" font-size="6.3" text-anchor="start" fill="#222">2</text>
<text x="176.0" y="54.4" font-size="6.3" text-anchor="start" fill="#222">3</text>
<text x="133.0" y="63.2" font-size="7.7" text-anchor="start" fill="#222" textLength="40.7" lengthAdjust="spacingAndGlyphs">Vortex order</text>
<text x="56.5" y="46.2" font-size="9.5" text-anchor="start" fill="#3a3a3a" textLength="11.5" lengthAdjust="spacingAndGlyphs">6π</text>
<text x="60.7" y="119.2" font-size="9.5" text-anchor="start" fill="#3a3a3a">0</text>
<text x="67.8" y="128.2" font-size="9.5" text-anchor="start" fill="#3a3a3a">1</text>
<text x="186.1" y="128.4" font-size="9.5" text-anchor="start" fill="#3a3a3a" textLength="10.3" lengthAdjust="spacingAndGlyphs">16</text>
<text x="113.1" y="130.9" font-size="10.5" text-anchor="start" fill="#3a3a3a" textLength="27.5" lengthAdjust="spacingAndGlyphs">Player</text>
<text transform="translate(62.9,78.3) rotate(-90)" x="0" y="0" font-size="10.5" text-anchor="middle" fill="#3a3a3a" textLength="25.5" lengthAdjust="spacingAndGlyphs">Phase</text>
<rect x="197.2" y="48.4" width="70.5" height="14.8" fill="#ffffff" stroke="#8c8c8c" stroke-width="0.8"/>
<line x1="199.3" y1="55.8" x2="215.4" y2="55.8" stroke="#222" stroke-width="0.9"/>
<circle cx="207.4" cy="55.8" r="2.0" fill="none" stroke="#222" stroke-width="0.9"/>
<text x="217.5" y="58.7" font-size="9.6" text-anchor="start" fill="#111" textLength="44.2" lengthAdjust="spacingAndGlyphs">Vortex order</text>
<text x="0.0" y="9.3" font-size="12.5" text-anchor="start" fill="#3a3a3a" textLength="13.1" lengthAdjust="spacingAndGlyphs">(a)</text>
<text x="131.0" y="11.3" font-size="14" text-anchor="start" fill="#3a3a3a" textLength="104.4" lengthAdjust="spacingAndGlyphs">Coupling delay [s]</text>
<text x="40.7" y="29.4" font-size="12.3" text-anchor="start" fill="#3a3a3a">0</text>
<text x="131.0" y="29.4" font-size="12.3" text-anchor="start" fill="#3a3a3a" textLength="17.1" lengthAdjust="spacingAndGlyphs">0.5</text>
<text x="231.4" y="29.4" font-size="12.3" text-anchor="start" fill="#3a3a3a">1</text>
<text x="37.5" y="238.0" font-size="12.3" text-anchor="end" fill="#3a3a3a" textLength="15.3" lengthAdjust="spacingAndGlyphs">0π</text>
<text x="37.5" y="198.2" font-size="12.3" text-anchor="end" fill="#3a3a3a" textLength="15.3" lengthAdjust="spacingAndGlyphs">2π</text>
<text x="37.5" y="158.4" font-size="12.3" text-anchor="end" fill="#3a3a3a" textLength="15.3" lengthAdjust="spacingAndGlyphs">4π</text>
<text x="37.5" y="118.6" font-size="12.3" text-anchor="end" fill="#3a3a3a" textLength="15.3" lengthAdjust="spacingAndGlyphs">6π</text>
<text x="37.5" y="78.8" font-size="12.3" text-anchor="end" fill="#3a3a3a" textLength="15.3" lengthAdjust="spacingAndGlyphs">8π</text>
<text transform="translate(16.3,131.8) rotate(-90)" x="0" y="0" font-size="14" text-anchor="middle" fill="#3a3a3a" textLength="33" lengthAdjust="spacingAndGlyphs">Phase</text>
<text x="42.9" y="249.6" font-size="12.3" text-anchor="middle" fill="#3a3a3a">0</text>
<text x="105.5" y="249.6" font-size="12.3" text-anchor="middle" fill="#3a3a3a">10</text>
<text x="169.2" y="249.6" font-size="12.3" text-anchor="middle" fill="#3a3a3a">20</text>
<text x="233.2" y="249.6" font-size="12.3" text-anchor="middle" fill="#3a3a3a">30</text>
<text x="292.2" y="249.6" font-size="12.3" text-anchor="middle" fill="#3a3a3a">40</text>
<text x="148.0" y="267.3" font-size="13.4" text-anchor="start" fill="#3a3a3a" textLength="46.2" lengthAdjust="spacingAndGlyphs">Time [s]</text>
<text x="302.6" y="177.0" font-size="12.3" text-anchor="start" fill="#3a3a3a">3</text>
<text x="302.6" y="196.8" font-size="12.3" text-anchor="start" fill="#3a3a3a">2</text>
<text x="302.6" y="215.70000000000002" font-size="12.3" text-anchor="start" fill="#3a3a3a">1</text>
<text x="302.6" y="235.20000000000002" font-size="12.3" text-anchor="start" fill="#3a3a3a">0</text>
<text transform="translate(326.2,203.9) rotate(-90)" x="0" y="0" font-size="13.6" text-anchor="middle" fill="#3a3a3a" textLength="72.6" lengthAdjust="spacingAndGlyphs">Vortex order</text>
</svg></body></html>
